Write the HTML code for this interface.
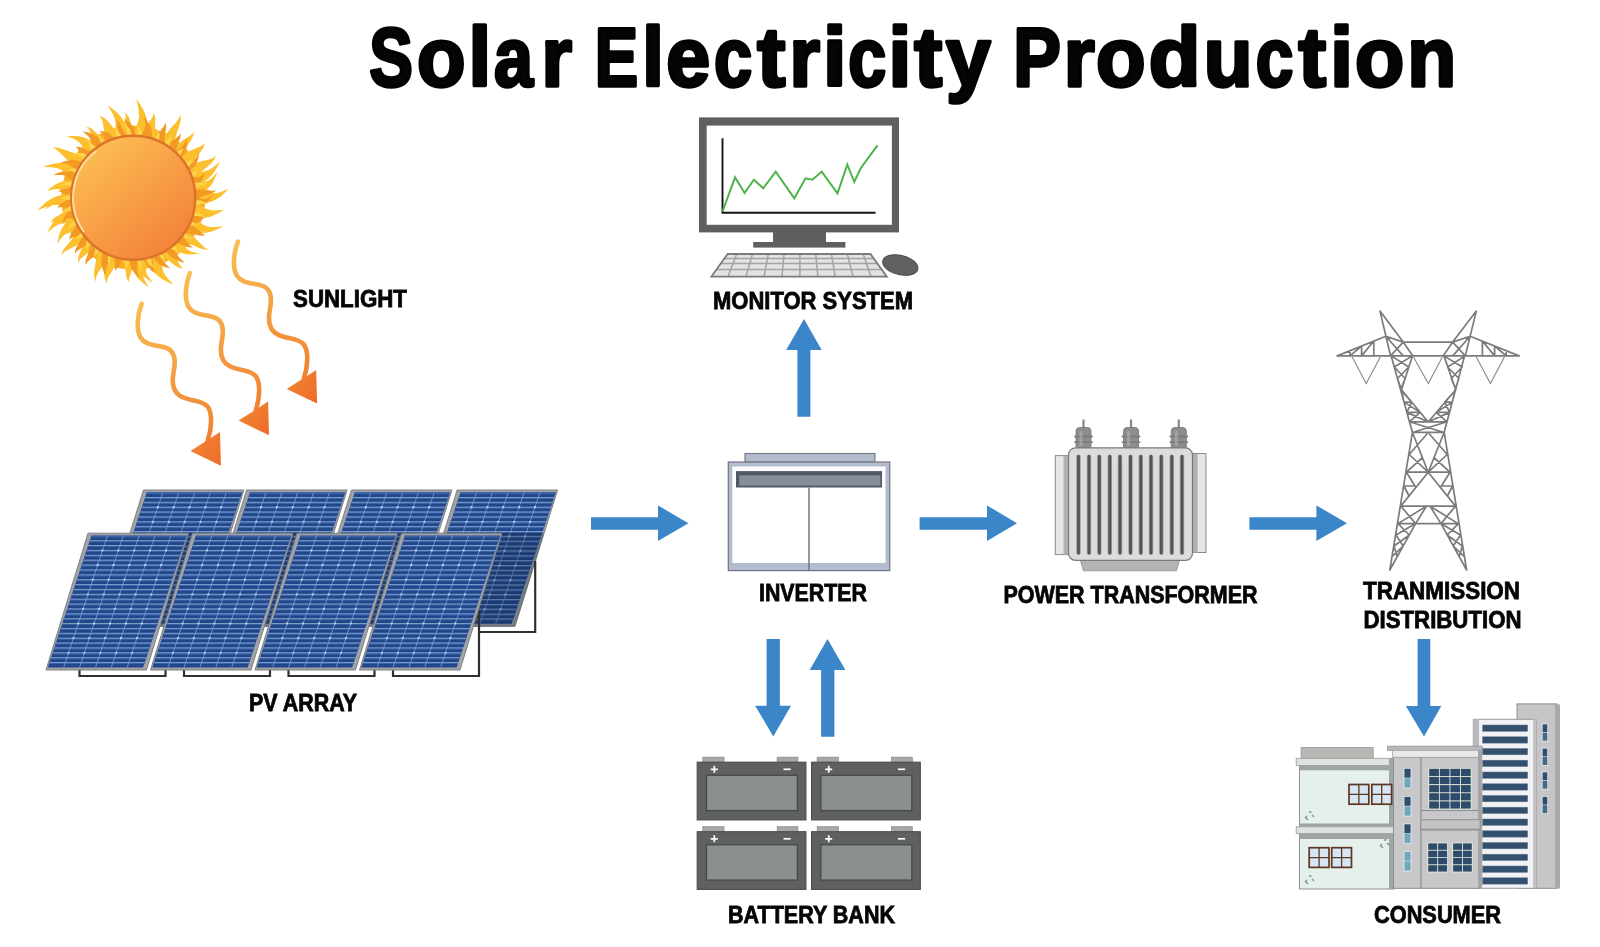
<!DOCTYPE html>
<html><head><meta charset="utf-8">
<style>
html,body{margin:0;padding:0;background:#fff;width:1600px;height:947px;overflow:hidden}
svg{display:block;will-change:transform}
text{font-family:"Liberation Sans",sans-serif;font-weight:bold;fill:#050505}
.lbl text{stroke:#050505;stroke-width:0.8}
</style></head><body>
<svg width="1600" height="947" viewBox="0 0 1600 947">
<rect width="1600" height="947" fill="#fff"/>
<defs>
<linearGradient id="sunG" x1="0.2" y1="0.1" x2="0.85" y2="0.9">
<stop offset="0" stop-color="#fcbb52"/><stop offset="1" stop-color="#f3823a"/></linearGradient>
<linearGradient id="rayG" x1="0" y1="0" x2="0" y2="1">
<stop offset="0" stop-color="#f9bf55"/><stop offset="1" stop-color="#f07f31"/></linearGradient>
<linearGradient id="ahG" x1="0" y1="0" x2="1" y2="1">
<stop offset="0" stop-color="#f28836"/><stop offset="1" stop-color="#ee6a28"/></linearGradient>
</defs>
<g font-size="83.8" stroke="#020202" stroke-width="3.4" stroke-linejoin="round"><text transform="translate(369.24 86.1) scale(0.7798 1)">S</text><text transform="translate(417.01 86.1) scale(0.9471 1)">o</text><text transform="translate(468.46 86.1) scale(0.9733 1)">l</text><text transform="translate(493.97 86.1) scale(0.8361 1)">a</text><text transform="translate(541.43 86.1) scale(0.9343 1)">r</text><text transform="translate(594.87 86.1) scale(0.7756 1)">E</text><text transform="translate(642.15 86.1) scale(0.9263 1)">l</text><text transform="translate(666.32 86.1) scale(0.9415 1)">e</text><text transform="translate(714.01 86.1) scale(0.8198 1)">c</text><text transform="translate(757.18 86.1) scale(1.0082 1)">t</text><text transform="translate(789.43 86.1) scale(0.9343 1)">r</text><text transform="translate(823.02 86.1) scale(1.0068 1)">i</text><text transform="translate(848.22 86.1) scale(0.8153 1)">c</text><text transform="translate(888.43 86.1) scale(0.9800 1)">i</text><text transform="translate(914.18 86.1) scale(1.0014 1)">t</text><text transform="translate(946.00 86.1) scale(0.9591 1)">y</text><text transform="translate(1013.37 86.1) scale(0.8520 1)">P</text><text transform="translate(1063.67 86.1) scale(0.9480 1)">r</text><text transform="translate(1095.98 86.1) scale(0.9679 1)">o</text><text transform="translate(1148.64 86.1) scale(1.0104 1)">d</text><text transform="translate(1203.87 86.1) scale(0.9529 1)">u</text><text transform="translate(1255.63 86.1) scale(0.8085 1)">c</text><text transform="translate(1298.47 86.1) scale(0.9877 1)">t</text><text transform="translate(1330.16 86.1) scale(0.9733 1)">i</text><text transform="translate(1354.99 86.1) scale(0.9617 1)">o</text><text transform="translate(1407.34 86.1) scale(0.9574 1)">n</text></g>
<circle cx="133.3" cy="197.7" r="72" fill="#f9ae2c"/>
<polygon points="195.8,190.1 198.7,190.6 201.5,190.9 204.3,191.1 207.1,191.5 209.9,192 212.8,192.7 215.6,193.4 218.4,194 221.2,194.2 223.9,193.6 223.9,193.6 221.2,196 218.5,197.5 215.7,198.4 212.9,199.1 210.1,199.8 207.3,200.7 204.5,201.8 201.6,202.9 198.8,203.9 195.9,204.7" fill="#fcbf2e"/>
<polygon points="196,203.9 198.7,205.2 201.4,206.5 204.1,207.9 206.9,209 209.6,209.8 212.4,210.3 215.3,210.4 218.2,210.3 221.1,210 224.1,209.8 224.1,209.8 220.9,211.8 217.7,213.6 214.4,215.1 211.2,216.4 208.1,217.3 205,217.8 202,217.9 199,217.9 196,217.7 193,217.7" fill="#fcbf2e"/>
<polygon points="193.2,217.2 195.9,219.2 198.5,221.3 201.2,223.2 203.9,225 206.8,226.2 209.9,227 213.2,227.2 216.7,227 220.1,226.6 223.6,226.1 223.6,226.1 219.6,228.2 215.5,230 211.5,231.4 207.6,232.4 203.9,232.9 200.4,232.7 197.1,232.2 193.9,231.3 190.8,230.4 187.7,229.6" fill="#fcbf2e"/>
<polygon points="187,230.7 189,232.8 191.1,234.7 193.3,236.6 195.4,238.5 197.5,240.5 199.5,242.6 201.5,244.7 203.6,246.7 206,248.3 208.6,249.5 208.6,249.5 205.1,249.5 202.1,248.9 199.2,247.9 196.5,246.7 193.9,245.6 191.1,244.5 188.3,243.4 185.5,242.4 182.7,241.2 180,240" fill="#fcbf2e"/>
<polygon points="180.7,239.2 182,241.3 183.2,243.6 184.4,245.8 185.8,247.8 187.5,249.5 189.6,250.8 191.9,251.7 194.5,252.4 197.2,253 199.9,253.6 199.9,253.6 196.3,254 192.8,254.3 189.3,254.4 186.1,254.2 183.2,253.6 180.7,252.6 178.6,251.3 176.6,249.8 174.7,248.3 172.7,246.9" fill="#fcbf2e"/>
<polygon points="171.5,247.8 172.4,250.1 173.4,252.3 174.5,254.5 175.6,256.6 176.6,258.8 177.6,261.1 178.6,263.3 179.8,265.3 181.3,267.1 183.5,268.5 183.5,268.5 180.1,268 177.4,266.9 175.1,265.5 173.1,264 171.1,262.4 169.1,260.8 167,259.2 165,257.6 163,256 161.1,254.2" fill="#fcbf2e"/>
<polygon points="161,254.3 161.4,257.8 161.6,261.3 161.9,264.8 162.4,268.1 163.3,271.3 164.8,274.3 166.7,277 168.9,279.7 171.2,282.3 173.2,285 173.2,285 169.5,283 165.7,281 162,278.9 158.6,276.5 155.8,273.9 153.5,271.2 151.6,268.3 150.1,265.2 148.5,262.2 146.9,259.2" fill="#fcbf2e"/>
<polygon points="147.1,259.2 146.8,261.7 146.4,264.3 146,266.9 145.9,269.4 146.1,271.8 146.9,274.2 148.2,276.4 149.8,278.6 151.3,280.8 152.6,283 152.6,283 149.9,281.1 147.1,279.1 144.4,277 142,274.9 140.1,272.6 138.8,270.3 137.9,267.9 137.3,265.5 136.7,263.1 136,260.6" fill="#fcbf2e"/>
<polygon points="133.6,260.7 133,262.9 132.7,265.1 132.5,267.2 132.2,269.4 131.6,271.6 130.8,273.7 129.9,275.9 129.2,278 129,280.2 129.6,282.4 129.6,282.4 127.6,280.1 126.6,277.9 126.2,275.6 126,273.4 125.7,271.2 125.2,269 124.5,266.7 123.7,264.4 123,262.1 122.5,259.8" fill="#fcbf2e"/>
<polygon points="118.5,258.9 117.1,261.3 115.8,263.8 114.6,266.2 113.4,268.6 112.1,271 110.6,273.4 109.1,275.7 107.9,278.1 107.1,280.6 107.1,283.4 107.1,283.4 105.3,280.1 104.5,277 104.3,274 104.4,271.2 104.5,268.4 104.5,265.5 104.5,262.6 104.3,259.6 104.4,256.6 104.6,253.8" fill="#fcbf2e"/>
<polygon points="109,255.8 107.3,258.2 105.7,260.7 104.2,263.3 102.7,265.8 101.1,268.3 99.5,270.7 97.9,273.2 96.6,275.8 95.9,278.7 95.9,281.9 95.9,281.9 94.5,278 94,274.5 94.2,271.3 94.7,268.3 95.2,265.3 95.8,262.2 96.3,259.1 96.8,256 97.4,253 98.2,250" fill="#fcbf2e"/>
<polygon points="94.5,247.3 92.6,248.7 90.8,250.2 89.2,251.7 87.5,253.2 85.7,254.6 83.9,256 82.1,257.4 80.5,259 79.2,260.9 78.5,263.2 78.5,263.2 78.1,259.9 78.4,257.1 79.1,254.7 80,252.5 81,250.3 81.9,248.1 82.8,245.8 83.7,243.5 84.7,241.2 85.8,239.1" fill="#fcbf2e"/>
<polygon points="86.1,239.4 83.4,240.8 80.9,242.4 78.5,244.1 76.1,245.7 73.5,247.1 70.8,248.5 68.1,249.7 65.5,251.2 63.3,253.1 61.5,255.6 61.5,255.6 62.4,251.9 63.8,249 65.7,246.6 67.7,244.4 69.7,242.1 71.6,239.7 73.4,237.2 75.2,234.7 77.1,232.2 79.1,229.9" fill="#fcbf2e"/>
<polygon points="79.6,230.6 76.8,231.1 74.1,231.5 71.4,232 68.9,232.7 66.5,233.7 64.3,235.1 62.4,236.8 60.6,239 59,241.4 57.6,243.9 57.6,243.9 58.1,239.8 58.9,235.9 60.1,232.3 61.4,229.2 63.1,226.4 64.9,224.1 66.9,222.1 69,220.4 71.2,218.7 73.3,217" fill="#fcbf2e"/>
<polygon points="74.7,220.9 72.3,220.9 69.9,221.2 67.5,221.6 65.2,221.9 62.7,221.9 60.2,221.7 57.7,221.4 55.2,221.2 52.8,221.5 50.7,222.4 50.7,222.4 52.3,219.7 54.2,217.9 56.3,216.5 58.4,215.4 60.5,214.2 62.6,212.8 64.6,211.1 66.7,209.4 68.8,207.8 70.9,206.4" fill="#fcbf2e"/>
<polygon points="70.8,205.4 68.1,204.9 65.4,204.3 62.7,203.7 60,203.4 57.4,203.5 54.8,204.2 52.2,205.3 49.7,206.7 47.3,208.3 44.8,209.7 44.8,209.7 47.1,206.9 49.5,204.1 52,201.6 54.5,199.3 57.2,197.6 59.8,196.5 62.4,195.7 65.1,195.3 67.7,194.9 70.4,194.4" fill="#fcbf2e"/>
<polygon points="70.4,194 68.1,192.9 65.9,191.8 63.6,190.7 61.3,189.9 59,189.3 56.7,189.1 54.3,189.3 51.9,189.8 49.5,190.5 47,191.2 47,191.2 49.6,188.8 52.2,186.7 54.9,184.8 57.6,183.3 60.2,182.2 62.7,181.4 65.3,181.1 67.7,180.9 70.2,180.8 72.7,180.6" fill="#fcbf2e"/>
<polygon points="73.3,178.4 70.6,176.4 67.8,174.4 65.1,172.3 62.3,170.5 59.4,169.1 56.3,168.1 53,167.6 49.6,167.3 46.3,167.1 43,166.7 43,166.7 46.8,165.6 50.7,164.5 54.6,163.5 58.5,162.9 62.2,162.7 65.6,163.1 68.9,163.8 72.1,164.7 75.3,165.7 78.5,166.6" fill="#fcbf2e"/>
<polygon points="77.4,168.6 75,166.3 72.5,164.2 70,162.2 67.5,160.1 65.1,157.9 62.8,155.6 60.5,153.2 58.1,151 55.5,149.1 52.6,147.8 52.6,147.8 56.5,147.6 59.9,148.2 63.1,149.2 66.2,150.3 69.3,151.5 72.5,152.6 75.7,153.5 79,154.5 82.3,155.6 85.4,156.8" fill="#fcbf2e"/>
<polygon points="86.8,155.1 85.5,152.6 84.2,149.9 82.9,147.3 81.4,144.9 79.6,142.7 77.5,140.9 75.1,139.5 72.4,138.3 69.6,137.2 66.8,136.1 66.8,136.1 70.8,136 74.7,136 78.4,136.3 82,136.9 85.1,137.8 87.9,139.2 90.4,140.8 92.7,142.5 94.9,144.3 97.2,146.1" fill="#fcbf2e"/>
<polygon points="96.7,146.4 95.8,144.3 94.7,142.4 93.6,140.5 92.5,138.5 91.6,136.4 90.9,134.2 90.2,132 89.4,129.9 88,128.1 85.7,127 85.7,127 89.2,127.4 91.6,128.5 93.4,130 95,131.7 96.6,133.3 98.4,134.8 100.5,136.2 102.6,137.7 104.6,139.1 106.3,140.8" fill="#fcbf2e"/>
<polygon points="106.4,140.7 106,138 105.5,135.4 104.8,132.9 104.1,130.3 103.6,127.7 103.2,125 102.8,122.4 102.1,119.9 100.8,117.6 98.7,115.6 98.7,115.6 102.5,116.9 105.3,118.7 107.4,120.7 109.2,122.8 111,125 112.8,127.2 114.8,129.3 116.8,131.5 118.6,133.8 120.2,136.1" fill="#fcbf2e"/>
<polygon points="123.3,135.5 123.6,133.2 123.7,130.9 123.7,128.6 123.8,126.3 124.1,124 124.6,121.7 125.2,119.4 125.6,117.1 125.6,114.8 124.7,112.6 124.7,112.6 127.2,114.7 128.7,116.8 129.6,119 130.2,121.3 131,123.5 131.9,125.7 133,127.9 134.2,130.2 135.3,132.5 136.2,134.8" fill="#fcbf2e"/>
<polygon points="137,134.8 137.9,132.5 138.9,130.2 139.9,128 140.6,125.7 141,123.4 141,121 140.5,118.6 139.8,116.2 138.9,113.8 138.2,111.4 138.2,111.4 140.3,113.9 142.4,116.4 144.2,119 145.8,121.6 146.9,124.2 147.5,126.7 147.8,129.2 147.8,131.6 147.8,134 147.9,136.4" fill="#fcbf2e"/>
<polygon points="143.6,135.6 144.7,133.3 145.5,130.9 146.2,128.6 147,126.3 148.1,124 149.5,121.8 151,119.6 152.4,117.4 153.1,115.1 153,112.6 153,112.6 154.7,115.5 155.3,118.2 155.3,120.7 155.1,123.2 155,125.7 155.1,128.3 155.4,131 155.9,133.7 156.2,136.4 156.3,139" fill="#fcbf2e"/>
<polygon points="161,141.1 163.1,138.5 165.1,135.8 166.9,133.1 168.9,130.4 171,127.8 173.3,125.3 175.6,122.9 177.7,120.3 179.3,117.5 180.1,114.2 180.1,114.2 180.8,118.3 180.4,122 179.5,125.3 178.4,128.4 177.2,131.6 176.2,134.9 175.4,138.3 174.6,141.7 173.6,145.1 172.5,148.4" fill="#fcbf2e"/>
<polygon points="172.8,148.6 175,147 177.1,145.2 179.1,143.4 181.2,141.7 183.4,140.1 185.7,138.5 188.1,137.1 190.3,135.5 192.3,133.7 193.8,131.4 193.8,131.4 193.4,134.8 192.4,137.5 191.1,140 189.6,142.3 188.2,144.6 186.8,147.1 185.6,149.7 184.4,152.3 183.1,154.8 181.6,157.3" fill="#fcbf2e"/>
<polygon points="180.4,155.9 183,154.7 185.4,153.4 187.8,152.1 190.2,150.8 192.7,149.6 195.3,148.6 197.9,147.6 200.5,146.5 202.7,145.1 204.6,143.2 204.6,143.2 203.8,146.5 202.4,149.2 200.7,151.4 198.9,153.5 197.1,155.6 195.3,157.9 193.7,160.3 192,162.7 190.3,165.1 188.5,167.3" fill="#fcbf2e"/>
<polygon points="187.7,165.8 190.7,165.1 193.5,164.1 196.3,163 199.2,162 202.1,161.1 205.1,160.4 208.1,159.8 211,158.9 213.7,157.5 215.8,155.2 215.8,155.2 214.5,159.1 212.5,162 210.2,164.3 207.8,166.2 205.4,168.2 203.1,170.3 200.7,172.6 198.4,175 196,177.2 193.5,179.2" fill="#fcbf2e"/>
<polygon points="193.9,180.5 196.6,180.7 199.3,181.2 202,181.5 204.6,181.6 207.1,181.1 209.4,180 211.6,178.3 213.7,176.2 215.6,173.9 217.6,171.8 217.6,171.8 216.1,175.6 214.4,179.3 212.6,182.8 210.5,185.9 208.3,188.3 206,190.1 203.6,191.3 201.1,192.2 198.7,193.1 196.2,194" fill="#fcbf2e"/>
<polygon points="133.9,134.7 135,131.1 136.3,127.6 137.4,124 138.4,120.5 139,116.9 139,113.3 138.7,109.7 138,106 137.1,102.4 136.4,98.7 136.4,98.7 138.9,102.5 141.3,106.2 143.4,110.1 145.1,113.9 146.4,117.8 147.2,121.6 147.5,125.3 147.6,129 147.7,132.7 147.8,136.4" fill="#fcbf2e"/>
<polygon points="115.3,137.3 115.3,133.9 115.5,130.4 115.6,127 115.6,123.6 115.1,120.3 114.2,117.1 112.8,114.1 111.1,111.1 109.3,108.2 107.5,105.2 107.5,105.2 111,107.7 114.3,110.3 117.4,113.1 120.2,115.9 122.5,118.9 124.3,122 125.6,125.2 126.8,128.4 127.9,131.6 129,134.8" fill="#fcbf2e"/>
<polygon points="71,207.3 67.5,206.7 64,206.1 60.5,205.5 57.1,205.1 53.6,205.1 50.3,205.6 47,206.6 43.7,207.8 40.4,209.2 37.2,210.6 37.2,210.6 40.2,207.5 43.4,204.5 46.6,201.8 49.9,199.5 53.3,197.7 56.7,196.3 60.1,195.4 63.6,194.7 67,194 70.5,193.3" fill="#fcbf2e"/>
<polygon points="75.3,222.4 72.2,222.6 69,222.7 65.9,222.9 62.8,223.3 59.9,224 57.1,225.2 54.5,226.8 52,228.8 49.6,230.8 47.2,232.8 47.2,232.8 49,229.2 50.9,225.7 53,222.4 55.3,219.4 57.7,216.9 60.3,214.8 63,213.2 65.8,211.8 68.5,210.4 71.3,209" fill="#fcbf2e"/>
<polygon points="195.9,190.7 199.3,191.4 202.7,192.2 206,192.9 209.4,193.5 212.7,193.6 216,193.2 219.2,192.4 222.5,191.3 225.7,190 228.9,188.8 228.9,188.8 225.8,191.8 222.6,194.6 219.4,197.2 216.1,199.4 212.7,201.1 209.4,202.3 206,203.1 202.6,203.6 199.3,204.1 195.9,204.7" fill="#fcbf2e"/>
<polygon points="191.1,172.5 194.3,172.2 197.6,172.1 200.8,171.8 204,171.4 207,170.6 209.8,169.4 212.5,167.7 215.1,165.7 217.6,163.6 220.1,161.6 220.1,161.6 218.2,165.3 216.2,168.8 214.1,172.2 211.7,175.2 209.2,177.7 206.6,179.8 203.8,181.5 200.9,183 198,184.4 195.2,185.9" fill="#fcbf2e"/>
<polygon points="144.7,259.7 144.2,262.6 143.6,265.5 143.1,268.4 142.8,271.3 142.9,274.1 143.4,276.9 144.4,279.6 145.7,282.2 147.2,284.8 148.6,287.4 148.6,287.4 145.4,285.1 142.4,282.6 139.7,280.1 137.3,277.4 135.4,274.7 134,271.9 133,269.1 132.2,266.3 131.5,263.5 130.8,260.6" fill="#fcbf2e"/>
<polygon points="195.3,196.8 197,197.3 198.8,198 200.5,198.6 202.3,199.1 204,199.2 205.8,199 207.5,198.4 209.3,197.6 211,196.7 212.8,196 212.8,196 211,197.9 209.3,199.7 207.5,201.5 205.6,202.9 203.8,204 201.9,204.8 200.1,205.2 198.3,205.4 196.6,205.5 194.8,205.8" fill="#f29a24"/>
<polygon points="193.6,212.3 194.7,213.2 195.9,214.3 197,215.4 198.2,216.3 199.5,216.8 200.9,216.9 202.4,216.6 203.9,216.1 205.5,215.5 207,215.1 207,215.1 205.1,216.9 203.2,218.6 201.3,220.2 199.4,221.4 197.6,222.3 196,222.8 194.4,222.9 193,222.8 191.6,222.6 190.1,222.6" fill="#f29a24"/>
<polygon points="189.8,223.3 191.3,224.6 192.9,225.8 194.5,227 196.2,228.2 197.7,229.4 199.2,230.8 200.7,232.2 202.3,233.5 204,234.4 205.9,234.9 205.9,234.9 203.4,235.6 201.1,235.7 199,235.4 197,234.9 195,234.5 192.9,234.1 190.8,233.8 188.6,233.5 186.5,233.2 184.5,232.7" fill="#f29a24"/>
<polygon points="182.3,235.7 183.2,237 184.3,238.3 185.3,239.5 186.4,240.7 187.4,242 188.4,243.3 189.4,244.5 190.5,245.7 191.8,246.6 193.3,247.2 193.3,247.2 191,247.5 189,247.3 187.3,246.9 185.7,246.3 184.1,245.7 182.5,245.1 180.9,244.5 179.2,243.9 177.6,243.3 176.1,242.6" fill="#f29a24"/>
<polygon points="173,245.3 173.9,247.3 174.7,249.4 175.6,251.5 176.5,253.4 177.6,255.3 178.8,257 180.3,258.6 181.8,260.1 183.4,261.5 185,263 185,263 182.5,262.3 180,261.5 177.6,260.6 175.4,259.5 173.3,258.3 171.5,257 169.8,255.5 168.2,254 166.7,252.5 165.1,250.9" fill="#f29a24"/>
<polygon points="162.9,252.2 163.2,254 163.3,256 163.5,257.8 163.8,259.7 164.3,261.4 165.1,262.9 166.2,264.4 167.5,265.7 168.8,267 170.1,268.4 170.1,268.4 167.6,267.7 165.1,266.9 162.8,266 160.6,265 158.8,263.8 157.3,262.5 156,261.1 154.9,259.6 153.8,258.1 152.6,256.6" fill="#f29a24"/>
<polygon points="152.4,256.7 152.5,258.4 152.7,260.1 153,261.7 153.3,263.4 153.4,265.1 153.5,266.8 153.5,268.5 153.7,270.2 154.4,271.7 155.6,273.1 155.6,273.1 153.2,272.1 151.5,270.8 150.3,269.4 149.3,267.9 148.4,266.4 147.3,264.9 146.2,263.4 145,262 143.9,260.5 143,258.9" fill="#f29a24"/>
<polygon points="139,259.4 138.5,261.3 138,263.2 137.5,265 137.2,266.9 137,268.7 137.1,270.5 137.5,272.4 138.1,274.1 138.7,275.9 139.4,277.7 139.4,277.7 137.5,276 135.7,274.3 134.2,272.5 132.8,270.6 131.7,268.8 130.9,267 130.3,265.1 129.9,263.3 129.5,261.4 129,259.6" fill="#f29a24"/>
<polygon points="122.5,258.8 121.9,260 121.4,261.3 121,262.6 120.5,263.8 119.8,265 118.9,266.2 117.8,267.4 116.9,268.5 116.2,269.7 116.1,271.1 116.1,271.1 115.1,269.5 114.8,268 114.8,266.6 115,265.3 115,263.9 114.8,262.5 114.5,261 114.1,259.5 113.8,258 113.6,256.5" fill="#f29a24"/>
<polygon points="113.6,256.5 112.2,258.3 110.7,260 109.3,261.8 108.1,263.6 107,265.5 106.3,267.5 105.9,269.6 105.7,271.8 105.6,274 105.5,276.3 105.5,276.3 104.3,273.5 103.2,270.8 102.3,268.1 101.7,265.5 101.4,263 101.4,260.6 101.7,258.4 102.2,256.2 102.7,254 103.1,251.8" fill="#f29a24"/>
<polygon points="100.2,250.2 98.7,251.6 97.2,253.1 95.7,254.6 94.2,256.1 92.7,257.5 91,258.8 89.3,260.2 87.7,261.6 86.4,263.2 85.4,265 85.4,265 85.3,262.3 85.7,260.1 86.4,258 87.2,256 88,254 88.7,252 89.4,249.9 90.1,247.7 90.8,245.6 91.6,243.6" fill="#f29a24"/>
<polygon points="90.2,242.2 88.5,243.3 86.9,244.4 85.3,245.5 83.8,246.7 82.1,247.7 80.5,248.7 78.8,249.7 77.2,250.9 75.9,252.2 74.9,254 74.9,254 75,251.3 75.6,249.2 76.5,247.3 77.5,245.5 78.6,243.8 79.6,242 80.6,240.2 81.5,238.4 82.6,236.6 83.7,234.9" fill="#f29a24"/>
<polygon points="83,233.9 81.5,234.3 80,234.8 78.6,235.4 77.2,236 75.8,236.4 74.3,236.9 72.8,237.3 71.5,238 70.3,238.9 69.5,240.2 69.5,240.2 69.6,237.7 70.1,235.7 70.8,234.1 71.7,232.7 72.6,231.3 73.5,229.9 74.4,228.4 75.3,226.9 76.2,225.5 77.3,224.2" fill="#f29a24"/>
<polygon points="74.9,218.4 73.4,218.4 71.8,218.2 70.3,218.1 68.9,218.2 67.5,218.6 66.3,219.3 65.1,220.4 64.1,221.7 63.1,223.2 62.2,224.6 62.2,224.6 62.8,222.1 63.4,219.6 64.2,217.4 65.1,215.4 66.2,213.8 67.3,212.5 68.6,211.6 69.8,210.9 71.1,210.2 72.4,209.4" fill="#f29a24"/>
<polygon points="72.2,208.2 70.7,208 69.1,207.8 67.6,207.7 66.1,207.7 64.6,207.5 63.1,207.3 61.6,207.2 60.1,207.2 58.6,207.6 57.3,208.4 57.3,208.4 58.5,206.3 59.8,204.7 61.2,203.7 62.6,202.8 64,202 65.5,201.1 66.9,200.2 68.4,199.3 69.8,198.5 71.3,197.8" fill="#f29a24"/>
<polygon points="71.3,195.8 70,195.4 68.7,195 67.4,194.8 66,194.4 64.7,194 63.4,193.3 62.2,192.6 60.9,192 59.5,191.7 58.2,192 58.2,192 59.7,190.5 61.1,189.7 62.5,189.3 63.8,189.1 65.2,188.8 66.6,188.4 68.1,187.8 69.5,187.2 70.9,186.6 72.4,186.2" fill="#f29a24"/>
<polygon points="73.5,181.2 71.7,180 69.8,178.7 68,177.5 66.2,176.3 64.2,175.5 62.1,175.1 60,174.9 57.7,174.9 55.5,174.9 53.4,174.7 53.4,174.7 55.9,173.8 58.4,172.8 60.9,171.9 63.5,171.2 65.9,170.9 68.2,170.8 70.3,171.2 72.4,171.6 74.5,172.1 76.6,172.5" fill="#f29a24"/>
<polygon points="76.8,172.2 75.4,170.7 74.1,169.2 72.7,167.7 71.3,166.4 69.8,165.3 68.1,164.4 66.3,163.9 64.4,163.5 62.5,163.1 60.6,162.8 60.6,162.8 63.2,161.8 65.7,161 68.2,160.4 70.6,159.9 72.9,159.8 75,160 77,160.4 78.8,160.9 80.7,161.5 82.6,162" fill="#f29a24"/>
<polygon points="84.2,159.8 83.4,158.4 82.5,157.2 81.5,156.1 80.6,154.9 79.8,153.5 79.1,152 78.5,150.4 77.8,148.9 76.9,147.7 75.7,146.8 75.7,146.8 77.9,146.7 79.6,147 81,147.6 82.4,148.4 83.8,149.1 85.3,149.6 86.9,150.1 88.6,150.5 90.3,151 91.8,151.6" fill="#f29a24"/>
<polygon points="94.1,149.7 93.3,147.5 92.7,145.2 92,143 91.2,140.9 90.2,138.9 88.9,137.1 87.4,135.5 85.7,134.1 84.1,132.6 82.5,131 82.5,131 85.3,131.7 88,132.4 90.7,133.2 93.2,134.2 95.5,135.4 97.5,136.7 99.2,138.2 100.8,139.8 102.4,141.5 104,143.1" fill="#f29a24"/>
<polygon points="104.6,142.8 104.5,141.3 104.5,139.9 104.4,138.4 104.3,137 103.9,135.7 103.3,134.6 102.5,133.5 101.4,132.6 100.3,131.7 99.1,130.8 99.1,130.8 101.5,131.1 103.7,131.5 105.7,132.1 107.5,132.7 109.1,133.5 110.4,134.5 111.5,135.5 112.4,136.5 113.3,137.6 114.3,138.7" fill="#f29a24"/>
<polygon points="117.6,137.7 117.6,135.9 117.4,134.2 117.2,132.4 117,130.7 117,128.9 117.1,127.1 117.4,125.3 117.5,123.5 117.2,121.7 116.4,120.1 116.4,120.1 118.3,121.5 119.5,123 120.4,124.7 121,126.3 121.8,128 122.6,129.6 123.6,131.2 124.7,132.8 125.7,134.4 126.5,136.1" fill="#f29a24"/>
<polygon points="124.9,136.3 125.4,134.4 126,132.5 126.6,130.7 127,128.9 127.1,127.1 126.9,125.3 126.3,123.6 125.6,121.9 124.8,120.1 124.3,118.4 124.3,118.4 126.2,120 128.1,121.6 130,123.3 131.7,125 133.1,126.8 134,128.6 134.6,130.4 135,132.2 135.4,134 135.9,135.8" fill="#f29a24"/>
<polygon points="140.6,136.1 141.6,134.3 142.7,132.5 143.7,130.7 144.6,128.8 145.2,126.9 145.4,125 145.2,123 144.9,121 144.4,118.9 144.1,116.9 144.1,116.9 145.9,119.1 147.5,121.4 149.1,123.7 150.3,126 151.2,128.2 151.7,130.4 151.9,132.4 151.9,134.5 151.8,136.5 151.9,138.5" fill="#f29a24"/>
<polygon points="154.8,139.6 156,137.9 157.1,136.2 158.1,134.4 159.1,132.7 160.3,131 161.5,129.4 162.8,127.8 164,126.1 164.8,124.3 165.2,122.3 165.2,122.3 166,124.9 166.2,127.1 166,129.2 165.6,131.3 165.3,133.3 165,135.4 164.9,137.5 164.7,139.7 164.5,141.8 164.2,143.9" fill="#f29a24"/>
<polygon points="167.4,145.9 168.8,144.7 170.1,143.4 171.4,142.1 172.7,140.8 174.1,139.6 175.6,138.4 177.1,137.3 178.5,136.1 179.7,134.7 180.5,133 180.5,133 180.7,135.4 180.4,137.5 179.8,139.3 179,141 178.3,142.8 177.7,144.6 177.1,146.5 176.6,148.4 176,150.2 175.2,152" fill="#f29a24"/>
<polygon points="174.3,151.2 176,150.3 177.7,149.4 179.4,148.5 180.9,147.6 182.3,146.4 183.4,145 184.3,143.3 185,141.6 185.7,139.7 186.4,138 186.4,138 186.6,140.6 186.7,143.2 186.7,145.7 186.4,148 186,150.1 185.2,152 184.3,153.7 183.2,155.2 182.2,156.7 181.1,158.2" fill="#f29a24"/>
<polygon points="184.6,162.9 186.5,162.3 188.4,161.9 190.3,161.5 192.1,160.9 193.7,160 195.1,158.7 196.3,157.2 197.4,155.4 198.4,153.6 199.5,152 199.5,152 199,154.6 198.5,157.2 197.9,159.8 197.1,162.2 196.1,164.2 194.9,165.8 193.6,167.2 192.1,168.4 190.6,169.5 189.1,170.7" fill="#f29a24"/>
<polygon points="191.7,177 193.3,177.1 194.8,177.2 196.3,177.3 197.8,177.2 199.2,177 200.5,176.5 201.7,175.7 202.9,174.7 204,173.7 205.2,172.6 205.2,172.6 204.4,174.8 203.5,176.8 202.6,178.7 201.6,180.4 200.5,181.8 199.3,182.9 198.1,183.8 196.8,184.5 195.5,185.2 194.2,186" fill="#f29a24"/>
<polygon points="194.7,189.2 196.9,189.4 199.1,189.5 201.2,189.5 203.4,189.6 205.5,189.8 207.7,190.1 209.9,190.5 212,190.8 214.2,190.7 216.3,190.2 216.3,190.2 214.3,191.9 212.2,193.1 210.1,193.8 208,194.4 205.9,195.1 203.8,195.8 201.7,196.6 199.6,197.5 197.4,198.3 195.3,198.9" fill="#f29a24"/>
<polygon points="195.3,199.7 196.6,200 198,200.2 199.3,200.3 200.7,200.5 202,200.9 203.4,201.4 204.7,202 206,202.6 207.4,202.9 208.7,202.8 208.7,202.8 207.3,203.7 205.9,204 204.5,204.1 203.2,204.1 201.8,204.2 200.4,204.4 199,204.8 197.6,205.2 196.2,205.6 194.8,205.9" fill="#fdd44a"/>
<polygon points="193.7,211.6 195,212 196.3,212.4 197.7,212.6 199,213 200.2,213.6 201.4,214.4 202.6,215.3 203.8,216.2 205,216.8 206.4,216.9 206.4,216.9 204.8,217.3 203.5,217.2 202.2,216.8 200.9,216.3 199.6,216 198.2,215.9 196.8,215.9 195.4,216 193.9,216.1 192.5,216.1" fill="#fdd44a"/>
<polygon points="190.7,221.1 191.4,221.5 192.2,221.8 192.9,222.1 193.7,222.4 194.4,222.8 195,223.4 195.6,224.1 196.2,224.7 197,224.9 198,224.6 198,224.6 196.7,225.5 195.7,225.7 194.9,225.6 194.1,225.4 193.3,225.3 192.4,225.3 191.5,225.4 190.5,225.5 189.6,225.6 188.7,225.6" fill="#fdd44a"/>
<polygon points="184.7,232.4 185.6,233.3 186.4,234.3 187.2,235.3 188.1,236.2 189.2,236.8 190.4,237.2 191.9,237.3 193.4,237.2 195,237 196.5,236.9 196.5,236.9 194.7,237.5 192.8,238.1 191,238.5 189.2,238.8 187.7,238.8 186.4,238.5 185.2,238 184.1,237.4 183.1,236.7 182,236.1" fill="#fdd44a"/>
<polygon points="173.6,244.8 174.3,246 175.2,247 176.1,247.9 176.9,249 177.7,250.1 178.3,251.3 178.8,252.6 179.5,253.7 180.4,254.7 181.7,255.3 181.7,255.3 180,255.1 178.7,254.4 177.7,253.5 176.8,252.5 175.8,251.6 174.7,250.7 173.6,250 172.3,249.2 171.1,248.5 170.1,247.6" fill="#fdd44a"/>
<polygon points="162.2,252.6 162.5,253.7 163,254.7 163.4,255.7 163.9,256.7 164.2,257.8 164.5,258.9 164.7,260.1 164.9,261.2 165.4,262.2 166.2,263.1 166.2,263.1 164.9,262.5 163.9,261.7 163.2,260.8 162.6,259.9 161.9,259 161.1,258.1 160.3,257.2 159.4,256.4 158.6,255.5 157.8,254.7" fill="#fdd44a"/>
<polygon points="151.5,257 151.5,258.3 151.5,259.7 151.5,261 151.6,262.3 152,263.5 152.6,264.7 153.6,265.7 154.8,266.7 156.1,267.7 157.4,268.6 157.4,268.6 155.3,267.9 153.4,267.1 151.6,266.3 150,265.4 148.7,264.4 147.8,263.3 147.1,262.1 146.6,260.9 146.1,259.7 145.5,258.5" fill="#fdd44a"/>
<polygon points="141.5,259.2 141.4,260.4 141.5,261.7 141.6,263 141.6,264.2 141.6,265.5 141.4,266.8 141.2,268.1 141.1,269.4 141.2,270.7 141.6,271.9 141.6,271.9 140.6,270.7 140,269.5 139.6,268.3 139.4,267 139,265.8 138.6,264.6 138.1,263.3 137.6,262.1 137.1,260.9 136.7,259.6" fill="#fdd44a"/>
<polygon points="129.4,259.6 129.2,260.6 129.1,261.6 129,262.7 128.9,263.7 128.6,264.7 128,265.7 127.3,266.7 126.6,267.6 126.3,268.6 126.4,269.7 126.4,269.7 125.6,268.6 125.4,267.5 125.5,266.5 125.7,265.5 125.8,264.4 125.6,263.4 125.2,262.3 124.8,261.2 124.4,260.1 124.2,259" fill="#fdd44a"/>
<polygon points="113.1,256.3 112.4,257.4 111.6,258.5 110.9,259.6 110.3,260.7 110,262 110,263.4 110.3,264.8 110.9,266.4 111.6,267.9 112.2,269.5 112.2,269.5 111,267.8 109.9,266 108.9,264.3 108.1,262.7 107.7,261.1 107.6,259.7 107.8,258.4 108.1,257.1 108.5,255.9 108.8,254.7" fill="#fdd44a"/>
<polygon points="99.9,249.9 99.3,250.6 98.8,251.3 98.4,252.1 97.9,252.8 97.3,253.4 96.6,254 95.8,254.5 95.1,255.1 94.8,255.9 94.9,257.1 94.9,257.1 94.2,255.6 94.1,254.4 94.3,253.5 94.6,252.7 94.9,251.8 95.1,250.9 95.1,249.8 95.2,248.8 95.3,247.8 95.5,246.8" fill="#fdd44a"/>
<polygon points="92.2,244.1 91.3,244.5 90.5,244.7 89.6,245 88.8,245.4 88.2,246 87.8,246.8 87.7,247.7 87.6,248.7 87.5,249.7 87.2,250.6 87.2,250.6 86.9,249.2 86.6,247.8 86.2,246.3 86,245 85.9,243.8 86.1,242.8 86.5,242 87,241.3 87.5,240.7 87.9,240" fill="#fdd44a"/>
<polygon points="84.6,236.1 83.7,236.5 83,237 82.3,237.6 81.5,238.1 80.6,238.5 79.6,238.7 78.6,238.8 77.6,239 76.8,239.5 76.3,240.5 76.3,240.5 76.3,238.9 76.7,237.8 77.3,237.1 78.1,236.5 78.7,235.9 79.2,235 79.7,234 80.1,233 80.5,232 81.1,231.1" fill="#fdd44a"/>
<polygon points="77.5,224.7 76.3,224.9 75,225.2 73.8,225.4 72.6,225.8 71.6,226.3 70.6,227.1 69.7,228 68.9,229.1 68.1,230.3 67.4,231.5 67.4,231.5 67.9,229.8 68.4,228.2 69.1,226.6 69.8,225.2 70.6,224.1 71.5,223.1 72.5,222.4 73.5,221.8 74.6,221.2 75.6,220.5" fill="#fdd44a"/>
<polygon points="72.7,210.7 71.6,210.7 70.5,210.8 69.5,210.9 68.4,211.1 67.4,211.2 66.3,211.3 65.3,211.4 64.2,211.6 63.3,212.2 62.4,213.2 62.4,213.2 63.1,211.5 64,210.3 64.9,209.5 65.9,208.9 66.8,208.2 67.8,207.6 68.8,206.9 69.8,206.3 70.7,205.7 71.8,205.2" fill="#fdd44a"/>
<polygon points="71.3,200 70.3,199.8 69.2,199.8 68.1,199.8 67,199.7 66,199.5 64.9,199.3 63.8,198.9 62.7,198.7 61.7,198.8 60.6,199.4 60.6,199.4 61.6,198.1 62.7,197.4 63.8,196.9 64.9,196.7 66,196.4 67,196 68.1,195.5 69.2,195 70.3,194.5 71.4,194.1" fill="#fdd44a"/>
<polygon points="72.2,187.2 71,186.7 69.8,186.1 68.6,185.6 67.4,185.1 66.1,184.9 64.8,184.9 63.5,185.2 62.1,185.7 60.7,186.2 59.4,186.7 59.4,186.7 60.8,185.6 62.3,184.5 63.8,183.5 65.3,182.8 66.7,182.3 68.1,182 69.4,182 70.7,182.1 72,182.2 73.3,182.3" fill="#fdd44a"/>
<polygon points="75.9,174.2 75,173.4 74.1,172.6 73.2,171.8 72.2,171.2 71.1,170.8 69.8,170.8 68.5,171.2 67,171.8 65.5,172.4 64.1,173 64.1,173 65.7,171.8 67.4,170.7 69.1,169.6 70.7,168.8 72.2,168.4 73.6,168.3 74.7,168.5 75.8,168.8 76.9,169.2 78,169.6" fill="#fdd44a"/>
<polygon points="83.8,160.4 83,159.3 82.3,158.2 81.5,157.1 80.7,156.1 79.6,155.4 78.4,154.9 77,154.6 75.5,154.6 73.9,154.6 72.3,154.6 72.3,154.6 74.3,154 76.3,153.5 78.3,153 80.1,152.8 81.7,152.9 83.1,153.2 84.3,153.8 85.4,154.4 86.5,155.1 87.7,155.7" fill="#fdd44a"/>
<polygon points="92.4,151.1 91.8,150 91.1,148.9 90.3,147.9 89.6,146.8 89,145.7 88.5,144.4 88.1,143.1 87.7,141.9 87.1,140.7 86.2,139.8 86.2,139.8 87.7,140.3 88.8,141 89.7,141.9 90.6,142.8 91.5,143.7 92.5,144.5 93.7,145.2 94.9,145.9 96,146.6 97.1,147.4" fill="#fdd44a"/>
<polygon points="101.8,144.3 101.4,143.3 100.9,142.3 100.3,141.4 99.8,140.4 99.4,139.4 99.2,138.3 98.9,137.2 98.7,136.1 98.2,135.2 97.3,134.4 97.3,134.4 98.7,134.9 99.6,135.6 100.3,136.5 100.9,137.4 101.5,138.3 102.3,139.1 103.1,139.9 104,140.6 104.9,141.4 105.7,142.2" fill="#fdd44a"/>
<polygon points="116.8,137.9 116.7,136.7 116.4,135.6 116.1,134.4 115.8,133.2 115.7,132 115.7,130.8 115.8,129.5 115.8,128.3 115.5,127.1 114.6,126.1 114.6,126.1 116.1,127 116.9,128 117.5,129.1 117.9,130.2 118.3,131.4 118.9,132.5 119.7,133.5 120.5,134.6 121.2,135.7 121.8,136.8" fill="#fdd44a"/>
<polygon points="125.9,136.1 126.1,134.7 126.4,133.3 126.7,131.8 126.7,130.4 126.5,129 125.9,127.7 124.9,126.4 123.7,125.1 122.4,123.9 121.2,122.7 121.2,122.7 123.1,123.8 125.1,125 126.8,126.2 128.4,127.5 129.5,128.8 130.3,130.2 130.8,131.5 131,132.9 131.3,134.3 131.6,135.7" fill="#fdd44a"/>
<polygon points="136.5,135.8 136.9,134.6 137.4,133.5 137.9,132.4 138.2,131.2 138.3,130 138.1,128.9 137.7,127.7 137.1,126.4 136.5,125.2 135.9,124.1 135.9,124.1 137.2,125.3 138.5,126.5 139.7,127.8 140.7,129.1 141.5,130.3 141.9,131.6 142.1,132.8 142.2,134 142.2,135.2 142.3,136.4" fill="#fdd44a"/>
<polygon points="154.4,139.4 155,138.4 155.7,137.4 156.4,136.3 157,135.3 157.3,134.1 157.3,132.9 157,131.5 156.5,130.1 155.9,128.6 155.3,127.2 155.3,127.2 156.5,128.8 157.5,130.4 158.4,132 159.1,133.6 159.5,135 159.6,136.3 159.4,137.6 159.1,138.7 158.8,139.9 158.5,141" fill="#fdd44a"/>
<polygon points="164.1,143.9 164.8,143 165.5,142.1 166.1,141.2 166.7,140.3 167.5,139.5 168.3,138.7 169.3,138 170.1,137.2 170.6,136.2 170.7,134.9 170.7,134.9 171.3,136.6 171.3,137.9 171.1,139.1 170.7,140.2 170.4,141.2 170.1,142.4 170,143.6 169.9,144.9 169.7,146.1 169.4,147.3" fill="#fdd44a"/>
<polygon points="176,152.8 176.8,152.3 177.4,151.7 178,151.1 178.6,150.5 179.4,150.1 180.2,149.8 181.2,149.5 182.1,149.3 182.8,148.7 183.1,147.8 183.1,147.8 183.3,149.2 183,150.2 182.5,150.9 182,151.5 181.5,152.2 181.1,153.1 180.8,154 180.6,155 180.3,156 179.9,156.8" fill="#fdd44a"/>
<polygon points="184.7,163 185.7,162.6 186.6,162.1 187.4,161.6 188.4,161.1 189.4,160.7 190.5,160.6 191.7,160.5 192.8,160.4 193.8,159.9 194.4,159.1 194.4,159.1 194.2,160.6 193.6,161.6 192.8,162.3 192,162.9 191.2,163.6 190.5,164.5 189.9,165.5 189.3,166.5 188.7,167.6 188,168.4" fill="#fdd44a"/>
<polygon points="189.9,172.4 190.9,172.4 192,172.3 193,172.3 194,172.1 194.9,171.7 195.7,171 196.3,170.1 196.9,169.1 197.5,168 198.1,167 198.1,167 197.8,168.6 197.4,170.2 197,171.8 196.5,173.1 195.9,174.3 195.2,175.1 194.4,175.8 193.5,176.3 192.7,176.7 191.8,177.3" fill="#fdd44a"/>
<polygon points="193.6,183.2 194.9,183.1 196.3,182.8 197.6,182.6 199,182.4 200.4,182.4 201.8,182.6 203.3,183 204.7,183.3 206.1,183.4 207.4,183 207.4,183 206.3,184.1 205,184.6 203.6,184.9 202.3,185.1 201,185.4 199.7,185.9 198.4,186.6 197.2,187.4 195.9,188.2 194.7,188.8" fill="#fdd44a"/>
<circle cx="133.3" cy="197.7" r="62" fill="url(#sunG)" stroke="#dc732b" stroke-width="2.4"/>
<path d="M84 232 A59 59 0 0 1 96 151" fill="none" stroke="#fde3a0" stroke-width="2" opacity="0.9"/>
<polygon points="143.4,490 243.9,490 201.3,626.4 100.8,626.4" fill="#a2a3a6" stroke="#77797d" stroke-width="0.9"/>
<polygon points="146.8,492.6 242.1,492.6 197.9,623.8 102.6,623.8" fill="#22468a"/>
<path d="M146.6 493.2L241.9 493.2M145 498.1L240.3 498.1M143.3 502.9L238.6 502.9M141.7 507.8L237 507.8M140.1 512.6L235.4 512.6M138.4 517.5L233.7 517.5M136.8 522.4L232.1 522.4M135.1 527.2L230.4 527.2M133.5 532.1L228.8 532.1M131.9 536.9L227.2 536.9M130.2 541.8L225.5 541.8M128.6 546.7L223.9 546.7M127 551.5L222.3 551.5M125.3 556.4L220.6 556.4M123.7 561.2L219 561.2M122 566.1L217.3 566.1M120.4 570.9L215.7 570.9M118.8 575.8L214.1 575.8M117.1 580.7L212.4 580.7M115.5 585.5L210.8 585.5M113.9 590.4L209.2 590.4M112.2 595.2L207.5 595.2M110.6 600.1L205.9 600.1M108.9 605L204.2 605M107.3 609.8L202.6 609.8M105.7 614.7L201 614.7M104 619.5L199.3 619.5" stroke="#3762a6" stroke-width="2.0" fill="none"/>
<path d="M145.2 497.5L240.5 497.5M143.5 502.3L238.8 502.3M141.9 507.2L237.2 507.2M140.3 512L235.6 512M138.6 516.9L233.9 516.9M137 521.8L232.3 521.8M135.3 526.6L230.6 526.6M133.7 531.5L229 531.5M132.1 536.3L227.4 536.3M130.4 541.2L225.7 541.2M128.8 546.1L224.1 546.1M127.2 550.9L222.5 550.9M125.5 555.8L220.8 555.8M123.9 560.6L219.2 560.6M122.2 565.5L217.5 565.5M120.6 570.3L215.9 570.3M119 575.2L214.3 575.2M117.3 580.1L212.6 580.1M115.7 584.9L211 584.9M114.1 589.8L209.4 589.8M112.4 594.6L207.7 594.6M110.8 599.5L206.1 599.5M109.1 604.4L204.4 604.4M107.5 609.2L202.8 609.2M105.9 614.1L201.2 614.1M104.2 618.9L199.5 618.9" stroke="#7d9bc9" stroke-width="1.0" fill="none"/>
<path d="M162.7 492.6L118.5 623.8M178.6 492.6L134.4 623.8M194.5 492.6L150.2 623.8M210.3 492.6L166.1 623.8M226.2 492.6L182 623.8" stroke="#86a4d4" stroke-width="0.9" fill="none" opacity="0.85"/>
<path d="M157.8 507.2h0.01M173.7 507.2h0.01M189.5 507.2h0.01M205.4 507.2h0.01M221.3 507.2h0.01M152.9 521.8h0.01M168.8 521.8h0.01M184.6 521.8h0.01M200.5 521.8h0.01M216.4 521.8h0.01M148 536.3h0.01M163.8 536.3h0.01M179.7 536.3h0.01M195.6 536.3h0.01M211.5 536.3h0.01M143 550.9h0.01M158.9 550.9h0.01M174.8 550.9h0.01M190.7 550.9h0.01M206.6 550.9h0.01M138.1 565.5h0.01M154 565.5h0.01M169.9 565.5h0.01M185.8 565.5h0.01M201.7 565.5h0.01M133.2 580.1h0.01M149.1 580.1h0.01M165 580.1h0.01M180.9 580.1h0.01M196.7 580.1h0.01M128.3 594.6h0.01M144.2 594.6h0.01M160.1 594.6h0.01M175.9 594.6h0.01M191.8 594.6h0.01M123.4 609.2h0.01M139.3 609.2h0.01M155.2 609.2h0.01M171 609.2h0.01M186.9 609.2h0.01" stroke="#b9cde9" stroke-width="2.3" stroke-linecap="round" fill="none"/>
<polygon points="246.6,490 347.1,490 304.5,626.4 204,626.4" fill="#a2a3a6" stroke="#77797d" stroke-width="0.9"/>
<polygon points="250,492.6 345.3,492.6 301.1,623.8 205.8,623.8" fill="#22468a"/>
<path d="M249.8 493.2L345.1 493.2M248.2 498.1L343.5 498.1M246.5 502.9L341.8 502.9M244.9 507.8L340.2 507.8M243.3 512.6L338.6 512.6M241.6 517.5L336.9 517.5M240 522.4L335.3 522.4M238.3 527.2L333.6 527.2M236.7 532.1L332 532.1M235.1 536.9L330.4 536.9M233.4 541.8L328.7 541.8M231.8 546.7L327.1 546.7M230.2 551.5L325.5 551.5M228.5 556.4L323.8 556.4M226.9 561.2L322.2 561.2M225.2 566.1L320.5 566.1M223.6 570.9L318.9 570.9M222 575.8L317.3 575.8M220.3 580.7L315.6 580.7M218.7 585.5L314 585.5M217.1 590.4L312.4 590.4M215.4 595.2L310.7 595.2M213.8 600.1L309.1 600.1M212.1 605L307.4 605M210.5 609.8L305.8 609.8M208.9 614.7L304.2 614.7M207.2 619.5L302.5 619.5" stroke="#3762a6" stroke-width="2.0" fill="none"/>
<path d="M248.4 497.5L343.7 497.5M246.7 502.3L342 502.3M245.1 507.2L340.4 507.2M243.5 512L338.8 512M241.8 516.9L337.1 516.9M240.2 521.8L335.5 521.8M238.5 526.6L333.8 526.6M236.9 531.5L332.2 531.5M235.3 536.3L330.6 536.3M233.6 541.2L328.9 541.2M232 546.1L327.3 546.1M230.4 550.9L325.7 550.9M228.7 555.8L324 555.8M227.1 560.6L322.4 560.6M225.4 565.5L320.7 565.5M223.8 570.3L319.1 570.3M222.2 575.2L317.5 575.2M220.5 580.1L315.8 580.1M218.9 584.9L314.2 584.9M217.3 589.8L312.6 589.8M215.6 594.6L310.9 594.6M214 599.5L309.3 599.5M212.3 604.4L307.6 604.4M210.7 609.2L306 609.2M209.1 614.1L304.4 614.1M207.4 618.9L302.7 618.9" stroke="#7d9bc9" stroke-width="1.0" fill="none"/>
<path d="M265.9 492.6L221.7 623.8M281.8 492.6L237.6 623.8M297.7 492.6L253.4 623.8M313.5 492.6L269.3 623.8M329.4 492.6L285.2 623.8" stroke="#86a4d4" stroke-width="0.9" fill="none" opacity="0.85"/>
<path d="M261 507.2h0.01M276.9 507.2h0.01M292.7 507.2h0.01M308.6 507.2h0.01M324.5 507.2h0.01M256.1 521.8h0.01M272 521.8h0.01M287.8 521.8h0.01M303.7 521.8h0.01M319.6 521.8h0.01M251.2 536.3h0.01M267 536.3h0.01M282.9 536.3h0.01M298.8 536.3h0.01M314.7 536.3h0.01M246.2 550.9h0.01M262.1 550.9h0.01M278 550.9h0.01M293.9 550.9h0.01M309.8 550.9h0.01M241.3 565.5h0.01M257.2 565.5h0.01M273.1 565.5h0.01M289 565.5h0.01M304.9 565.5h0.01M236.4 580.1h0.01M252.3 580.1h0.01M268.2 580.1h0.01M284.1 580.1h0.01M299.9 580.1h0.01M231.5 594.6h0.01M247.4 594.6h0.01M263.3 594.6h0.01M279.1 594.6h0.01M295 594.6h0.01M226.6 609.2h0.01M242.5 609.2h0.01M258.4 609.2h0.01M274.2 609.2h0.01M290.1 609.2h0.01" stroke="#b9cde9" stroke-width="2.3" stroke-linecap="round" fill="none"/>
<polygon points="351.4,490 451.9,490 409.3,626.4 308.8,626.4" fill="#a2a3a6" stroke="#77797d" stroke-width="0.9"/>
<polygon points="354.8,492.6 450.1,492.6 405.9,623.8 310.6,623.8" fill="#22468a"/>
<path d="M354.6 493.2L449.9 493.2M353 498.1L448.3 498.1M351.3 502.9L446.6 502.9M349.7 507.8L445 507.8M348.1 512.6L443.4 512.6M346.4 517.5L441.7 517.5M344.8 522.4L440.1 522.4M343.1 527.2L438.4 527.2M341.5 532.1L436.8 532.1M339.9 536.9L435.2 536.9M338.2 541.8L433.5 541.8M336.6 546.7L431.9 546.7M335 551.5L430.3 551.5M333.3 556.4L428.6 556.4M331.7 561.2L427 561.2M330 566.1L425.3 566.1M328.4 570.9L423.7 570.9M326.8 575.8L422.1 575.8M325.1 580.7L420.4 580.7M323.5 585.5L418.8 585.5M321.9 590.4L417.2 590.4M320.2 595.2L415.5 595.2M318.6 600.1L413.9 600.1M316.9 605L412.2 605M315.3 609.8L410.6 609.8M313.7 614.7L409 614.7M312 619.5L407.3 619.5" stroke="#3762a6" stroke-width="2.0" fill="none"/>
<path d="M353.2 497.5L448.5 497.5M351.5 502.3L446.8 502.3M349.9 507.2L445.2 507.2M348.3 512L443.6 512M346.6 516.9L441.9 516.9M345 521.8L440.3 521.8M343.3 526.6L438.6 526.6M341.7 531.5L437 531.5M340.1 536.3L435.4 536.3M338.4 541.2L433.7 541.2M336.8 546.1L432.1 546.1M335.2 550.9L430.5 550.9M333.5 555.8L428.8 555.8M331.9 560.6L427.2 560.6M330.2 565.5L425.5 565.5M328.6 570.3L423.9 570.3M327 575.2L422.3 575.2M325.3 580.1L420.6 580.1M323.7 584.9L419 584.9M322.1 589.8L417.4 589.8M320.4 594.6L415.7 594.6M318.8 599.5L414.1 599.5M317.1 604.4L412.4 604.4M315.5 609.2L410.8 609.2M313.9 614.1L409.2 614.1M312.2 618.9L407.5 618.9" stroke="#7d9bc9" stroke-width="1.0" fill="none"/>
<path d="M370.7 492.6L326.5 623.8M386.6 492.6L342.4 623.8M402.5 492.6L358.2 623.8M418.3 492.6L374.1 623.8M434.2 492.6L390 623.8" stroke="#86a4d4" stroke-width="0.9" fill="none" opacity="0.85"/>
<path d="M365.8 507.2h0.01M381.7 507.2h0.01M397.5 507.2h0.01M413.4 507.2h0.01M429.3 507.2h0.01M360.9 521.8h0.01M376.8 521.8h0.01M392.6 521.8h0.01M408.5 521.8h0.01M424.4 521.8h0.01M356 536.3h0.01M371.8 536.3h0.01M387.7 536.3h0.01M403.6 536.3h0.01M419.5 536.3h0.01M351 550.9h0.01M366.9 550.9h0.01M382.8 550.9h0.01M398.7 550.9h0.01M414.6 550.9h0.01M346.1 565.5h0.01M362 565.5h0.01M377.9 565.5h0.01M393.8 565.5h0.01M409.7 565.5h0.01M341.2 580.1h0.01M357.1 580.1h0.01M373 580.1h0.01M388.9 580.1h0.01M404.7 580.1h0.01M336.3 594.6h0.01M352.2 594.6h0.01M368.1 594.6h0.01M383.9 594.6h0.01M399.8 594.6h0.01M331.4 609.2h0.01M347.3 609.2h0.01M363.2 609.2h0.01M379 609.2h0.01M394.9 609.2h0.01" stroke="#b9cde9" stroke-width="2.3" stroke-linecap="round" fill="none"/>
<polygon points="457.1,490 557.6,490 515,626.4 414.5,626.4" fill="#a2a3a6" stroke="#77797d" stroke-width="0.9"/>
<polygon points="460.5,492.6 555.8,492.6 511.6,623.8 416.3,623.8" fill="#22468a"/>
<path d="M460.3 493.2L555.6 493.2M458.7 498.1L554 498.1M457 502.9L552.3 502.9M455.4 507.8L550.7 507.8M453.8 512.6L549.1 512.6M452.1 517.5L547.4 517.5M450.5 522.4L545.8 522.4M448.8 527.2L544.1 527.2M447.2 532.1L542.5 532.1M445.6 536.9L540.9 536.9M443.9 541.8L539.2 541.8M442.3 546.7L537.6 546.7M440.7 551.5L536 551.5M439 556.4L534.3 556.4M437.4 561.2L532.7 561.2M435.7 566.1L531 566.1M434.1 570.9L529.4 570.9M432.5 575.8L527.8 575.8M430.8 580.7L526.1 580.7M429.2 585.5L524.5 585.5M427.6 590.4L522.9 590.4M425.9 595.2L521.2 595.2M424.3 600.1L519.6 600.1M422.6 605L517.9 605M421 609.8L516.3 609.8M419.4 614.7L514.7 614.7M417.7 619.5L513 619.5" stroke="#3762a6" stroke-width="2.0" fill="none"/>
<path d="M458.9 497.5L554.2 497.5M457.2 502.3L552.5 502.3M455.6 507.2L550.9 507.2M454 512L549.3 512M452.3 516.9L547.6 516.9M450.7 521.8L546 521.8M449 526.6L544.3 526.6M447.4 531.5L542.7 531.5M445.8 536.3L541.1 536.3M444.1 541.2L539.4 541.2M442.5 546.1L537.8 546.1M440.9 550.9L536.2 550.9M439.2 555.8L534.5 555.8M437.6 560.6L532.9 560.6M435.9 565.5L531.2 565.5M434.3 570.3L529.6 570.3M432.7 575.2L528 575.2M431 580.1L526.3 580.1M429.4 584.9L524.7 584.9M427.8 589.8L523.1 589.8M426.1 594.6L521.4 594.6M424.5 599.5L519.8 599.5M422.8 604.4L518.1 604.4M421.2 609.2L516.5 609.2M419.6 614.1L514.9 614.1M417.9 618.9L513.2 618.9" stroke="#7d9bc9" stroke-width="1.0" fill="none"/>
<path d="M476.4 492.6L432.2 623.8M492.3 492.6L448.1 623.8M508.2 492.6L463.9 623.8M524 492.6L479.8 623.8M539.9 492.6L495.7 623.8" stroke="#86a4d4" stroke-width="0.9" fill="none" opacity="0.85"/>
<path d="M471.5 507.2h0.01M487.4 507.2h0.01M503.2 507.2h0.01M519.1 507.2h0.01M535 507.2h0.01M466.6 521.8h0.01M482.5 521.8h0.01M498.3 521.8h0.01M514.2 521.8h0.01M530.1 521.8h0.01M461.7 536.3h0.01M477.5 536.3h0.01M493.4 536.3h0.01M509.3 536.3h0.01M525.2 536.3h0.01M456.7 550.9h0.01M472.6 550.9h0.01M488.5 550.9h0.01M504.4 550.9h0.01M520.3 550.9h0.01M451.8 565.5h0.01M467.7 565.5h0.01M483.6 565.5h0.01M499.5 565.5h0.01M515.4 565.5h0.01M446.9 580.1h0.01M462.8 580.1h0.01M478.7 580.1h0.01M494.6 580.1h0.01M510.4 580.1h0.01M442 594.6h0.01M457.9 594.6h0.01M473.8 594.6h0.01M489.6 594.6h0.01M505.5 594.6h0.01M437.1 609.2h0.01M453 609.2h0.01M468.9 609.2h0.01M484.7 609.2h0.01M500.6 609.2h0.01" stroke="#b9cde9" stroke-width="2.3" stroke-linecap="round" fill="none"/>
<polygon points="130,533 544.2,533 515,626.4 100.8,626.4" fill="#0c1c3a" opacity="0.28"/>
<path d="M535.2 561V632H478.2" fill="none" stroke="#2f3032" stroke-width="2.2"/>
<path d="M79.5 669V676H165.5 V669" fill="none" stroke="#2f3032" stroke-width="2.2"/>
<polygon points="88,533.2 188.5,533.2 146.5,670 46,670" fill="#a2a3a6" stroke="#77797d" stroke-width="0.9"/>
<polygon points="91.4,535.8 186.7,535.8 143.1,667.4 47.8,667.4" fill="#22468a"/>
<path d="M91.2 536.4L186.5 536.4M89.6 541.3L184.9 541.3M88 546.1L183.3 546.1M86.4 551L181.7 551M84.7 555.9L180 555.9M83.1 560.8L178.4 560.8M81.5 565.6L176.8 565.6M79.9 570.5L175.2 570.5M78.3 575.4L173.6 575.4M76.7 580.3L172 580.3M75.1 585.1L170.4 585.1M73.4 590L168.7 590M71.8 594.9L167.1 594.9M70.2 599.8L165.5 599.8M68.6 604.6L163.9 604.6M67 609.5L162.3 609.5M65.4 614.4L160.7 614.4M63.7 619.3L159 619.3M62.1 624.1L157.4 624.1M60.5 629L155.8 629M58.9 633.9L154.2 633.9M57.3 638.8L152.6 638.8M55.7 643.6L151 643.6M54.1 648.5L149.4 648.5M52.4 653.4L147.7 653.4M50.8 658.3L146.1 658.3M49.2 663.1L144.5 663.1" stroke="#3762a6" stroke-width="2.0" fill="none"/>
<path d="M89.8 540.7L185.1 540.7M88.2 545.5L183.5 545.5M86.6 550.4L181.9 550.4M84.9 555.3L180.2 555.3M83.3 560.2L178.6 560.2M81.7 565L177 565M80.1 569.9L175.4 569.9M78.5 574.8L173.8 574.8M76.9 579.7L172.2 579.7M75.3 584.5L170.6 584.5M73.6 589.4L168.9 589.4M72 594.3L167.3 594.3M70.4 599.2L165.7 599.2M68.8 604L164.1 604M67.2 608.9L162.5 608.9M65.6 613.8L160.9 613.8M63.9 618.7L159.2 618.7M62.3 623.5L157.6 623.5M60.7 628.4L156 628.4M59.1 633.3L154.4 633.3M57.5 638.2L152.8 638.2M55.9 643L151.2 643M54.3 647.9L149.6 647.9M52.6 652.8L147.9 652.8M51 657.7L146.3 657.7M49.4 662.5L144.7 662.5" stroke="#7d9bc9" stroke-width="1.0" fill="none"/>
<path d="M107.3 535.8L63.7 667.4M123.2 535.8L79.6 667.4M139 535.8L95.5 667.4M154.9 535.8L111.3 667.4M170.8 535.8L127.2 667.4" stroke="#86a4d4" stroke-width="0.9" fill="none" opacity="0.85"/>
<path d="M102.4 550.4h0.01M118.3 550.4h0.01M134.2 550.4h0.01M150.1 550.4h0.01M166 550.4h0.01M97.6 565h0.01M113.5 565h0.01M129.4 565h0.01M145.2 565h0.01M161.1 565h0.01M92.7 579.7h0.01M108.6 579.7h0.01M124.5 579.7h0.01M140.4 579.7h0.01M156.3 579.7h0.01M87.9 594.3h0.01M103.8 594.3h0.01M119.7 594.3h0.01M135.6 594.3h0.01M151.4 594.3h0.01M83.1 608.9h0.01M98.9 608.9h0.01M114.8 608.9h0.01M130.7 608.9h0.01M146.6 608.9h0.01M78.2 623.5h0.01M94.1 623.5h0.01M110 623.5h0.01M125.9 623.5h0.01M141.8 623.5h0.01M73.4 638.2h0.01M89.3 638.2h0.01M105.1 638.2h0.01M121 638.2h0.01M136.9 638.2h0.01M68.5 652.8h0.01M84.4 652.8h0.01M100.3 652.8h0.01M116.2 652.8h0.01M132.1 652.8h0.01" stroke="#b9cde9" stroke-width="2.3" stroke-linecap="round" fill="none"/>
<path d="M184 669V676H270 V669" fill="none" stroke="#2f3032" stroke-width="2.2"/>
<polygon points="192.5,533.2 293,533.2 251,670 150.5,670" fill="#a2a3a6" stroke="#77797d" stroke-width="0.9"/>
<polygon points="195.9,535.8 291.2,535.8 247.6,667.4 152.3,667.4" fill="#22468a"/>
<path d="M195.7 536.4L291 536.4M194.1 541.3L289.4 541.3M192.5 546.1L287.8 546.1M190.9 551L286.2 551M189.2 555.9L284.5 555.9M187.6 560.8L282.9 560.8M186 565.6L281.3 565.6M184.4 570.5L279.7 570.5M182.8 575.4L278.1 575.4M181.2 580.3L276.5 580.3M179.6 585.1L274.9 585.1M177.9 590L273.2 590M176.3 594.9L271.6 594.9M174.7 599.8L270 599.8M173.1 604.6L268.4 604.6M171.5 609.5L266.8 609.5M169.9 614.4L265.2 614.4M168.2 619.3L263.5 619.3M166.6 624.1L261.9 624.1M165 629L260.3 629M163.4 633.9L258.7 633.9M161.8 638.8L257.1 638.8M160.2 643.6L255.5 643.6M158.6 648.5L253.9 648.5M156.9 653.4L252.2 653.4M155.3 658.3L250.6 658.3M153.7 663.1L249 663.1" stroke="#3762a6" stroke-width="2.0" fill="none"/>
<path d="M194.3 540.7L289.6 540.7M192.7 545.5L288 545.5M191.1 550.4L286.4 550.4M189.4 555.3L284.7 555.3M187.8 560.2L283.1 560.2M186.2 565L281.5 565M184.6 569.9L279.9 569.9M183 574.8L278.3 574.8M181.4 579.7L276.7 579.7M179.8 584.5L275.1 584.5M178.1 589.4L273.4 589.4M176.5 594.3L271.8 594.3M174.9 599.2L270.2 599.2M173.3 604L268.6 604M171.7 608.9L267 608.9M170.1 613.8L265.4 613.8M168.4 618.7L263.7 618.7M166.8 623.5L262.1 623.5M165.2 628.4L260.5 628.4M163.6 633.3L258.9 633.3M162 638.2L257.3 638.2M160.4 643L255.7 643M158.8 647.9L254.1 647.9M157.1 652.8L252.4 652.8M155.5 657.7L250.8 657.7M153.9 662.5L249.2 662.5" stroke="#7d9bc9" stroke-width="1.0" fill="none"/>
<path d="M211.8 535.8L168.2 667.4M227.7 535.8L184.1 667.4M243.5 535.8L200 667.4M259.4 535.8L215.8 667.4M275.3 535.8L231.7 667.4" stroke="#86a4d4" stroke-width="0.9" fill="none" opacity="0.85"/>
<path d="M206.9 550.4h0.01M222.8 550.4h0.01M238.7 550.4h0.01M254.6 550.4h0.01M270.5 550.4h0.01M202.1 565h0.01M218 565h0.01M233.9 565h0.01M249.7 565h0.01M265.6 565h0.01M197.2 579.7h0.01M213.1 579.7h0.01M229 579.7h0.01M244.9 579.7h0.01M260.8 579.7h0.01M192.4 594.3h0.01M208.3 594.3h0.01M224.2 594.3h0.01M240.1 594.3h0.01M255.9 594.3h0.01M187.6 608.9h0.01M203.4 608.9h0.01M219.3 608.9h0.01M235.2 608.9h0.01M251.1 608.9h0.01M182.7 623.5h0.01M198.6 623.5h0.01M214.5 623.5h0.01M230.4 623.5h0.01M246.3 623.5h0.01M177.9 638.2h0.01M193.8 638.2h0.01M209.6 638.2h0.01M225.5 638.2h0.01M241.4 638.2h0.01M173 652.8h0.01M188.9 652.8h0.01M204.8 652.8h0.01M220.7 652.8h0.01M236.6 652.8h0.01" stroke="#b9cde9" stroke-width="2.3" stroke-linecap="round" fill="none"/>
<path d="M288.5 669V676H374.5 V669" fill="none" stroke="#2f3032" stroke-width="2.2"/>
<polygon points="297,533.2 397.5,533.2 355.5,670 255,670" fill="#a2a3a6" stroke="#77797d" stroke-width="0.9"/>
<polygon points="300.4,535.8 395.7,535.8 352.1,667.4 256.8,667.4" fill="#22468a"/>
<path d="M300.2 536.4L395.5 536.4M298.6 541.3L393.9 541.3M297 546.1L392.3 546.1M295.4 551L390.7 551M293.7 555.9L389 555.9M292.1 560.8L387.4 560.8M290.5 565.6L385.8 565.6M288.9 570.5L384.2 570.5M287.3 575.4L382.6 575.4M285.7 580.3L381 580.3M284.1 585.1L379.4 585.1M282.4 590L377.7 590M280.8 594.9L376.1 594.9M279.2 599.8L374.5 599.8M277.6 604.6L372.9 604.6M276 609.5L371.3 609.5M274.4 614.4L369.7 614.4M272.7 619.3L368 619.3M271.1 624.1L366.4 624.1M269.5 629L364.8 629M267.9 633.9L363.2 633.9M266.3 638.8L361.6 638.8M264.7 643.6L360 643.6M263.1 648.5L358.4 648.5M261.4 653.4L356.7 653.4M259.8 658.3L355.1 658.3M258.2 663.1L353.5 663.1" stroke="#3762a6" stroke-width="2.0" fill="none"/>
<path d="M298.8 540.7L394.1 540.7M297.2 545.5L392.5 545.5M295.6 550.4L390.9 550.4M293.9 555.3L389.2 555.3M292.3 560.2L387.6 560.2M290.7 565L386 565M289.1 569.9L384.4 569.9M287.5 574.8L382.8 574.8M285.9 579.7L381.2 579.7M284.3 584.5L379.6 584.5M282.6 589.4L377.9 589.4M281 594.3L376.3 594.3M279.4 599.2L374.7 599.2M277.8 604L373.1 604M276.2 608.9L371.5 608.9M274.6 613.8L369.9 613.8M272.9 618.7L368.2 618.7M271.3 623.5L366.6 623.5M269.7 628.4L365 628.4M268.1 633.3L363.4 633.3M266.5 638.2L361.8 638.2M264.9 643L360.2 643M263.3 647.9L358.6 647.9M261.6 652.8L356.9 652.8M260 657.7L355.3 657.7M258.4 662.5L353.7 662.5" stroke="#7d9bc9" stroke-width="1.0" fill="none"/>
<path d="M316.3 535.8L272.7 667.4M332.2 535.8L288.6 667.4M348 535.8L304.5 667.4M363.9 535.8L320.3 667.4M379.8 535.8L336.2 667.4" stroke="#86a4d4" stroke-width="0.9" fill="none" opacity="0.85"/>
<path d="M311.4 550.4h0.01M327.3 550.4h0.01M343.2 550.4h0.01M359.1 550.4h0.01M375 550.4h0.01M306.6 565h0.01M322.5 565h0.01M338.4 565h0.01M354.2 565h0.01M370.1 565h0.01M301.7 579.7h0.01M317.6 579.7h0.01M333.5 579.7h0.01M349.4 579.7h0.01M365.3 579.7h0.01M296.9 594.3h0.01M312.8 594.3h0.01M328.7 594.3h0.01M344.6 594.3h0.01M360.4 594.3h0.01M292.1 608.9h0.01M307.9 608.9h0.01M323.8 608.9h0.01M339.7 608.9h0.01M355.6 608.9h0.01M287.2 623.5h0.01M303.1 623.5h0.01M319 623.5h0.01M334.9 623.5h0.01M350.8 623.5h0.01M282.4 638.2h0.01M298.3 638.2h0.01M314.1 638.2h0.01M330 638.2h0.01M345.9 638.2h0.01M277.5 652.8h0.01M293.4 652.8h0.01M309.3 652.8h0.01M325.2 652.8h0.01M341.1 652.8h0.01" stroke="#b9cde9" stroke-width="2.3" stroke-linecap="round" fill="none"/>
<path d="M393 669V676H479 V610" fill="none" stroke="#2f3032" stroke-width="2.2"/>
<polygon points="401.5,533.2 502,533.2 460,670 359.5,670" fill="#a2a3a6" stroke="#77797d" stroke-width="0.9"/>
<polygon points="404.9,535.8 500.2,535.8 456.6,667.4 361.3,667.4" fill="#22468a"/>
<path d="M404.7 536.4L500 536.4M403.1 541.3L498.4 541.3M401.5 546.1L496.8 546.1M399.9 551L495.2 551M398.2 555.9L493.5 555.9M396.6 560.8L491.9 560.8M395 565.6L490.3 565.6M393.4 570.5L488.7 570.5M391.8 575.4L487.1 575.4M390.2 580.3L485.5 580.3M388.6 585.1L483.9 585.1M386.9 590L482.2 590M385.3 594.9L480.6 594.9M383.7 599.8L479 599.8M382.1 604.6L477.4 604.6M380.5 609.5L475.8 609.5M378.9 614.4L474.2 614.4M377.2 619.3L472.5 619.3M375.6 624.1L470.9 624.1M374 629L469.3 629M372.4 633.9L467.7 633.9M370.8 638.8L466.1 638.8M369.2 643.6L464.5 643.6M367.6 648.5L462.9 648.5M365.9 653.4L461.2 653.4M364.3 658.3L459.6 658.3M362.7 663.1L458 663.1" stroke="#3762a6" stroke-width="2.0" fill="none"/>
<path d="M403.3 540.7L498.6 540.7M401.7 545.5L497 545.5M400.1 550.4L495.4 550.4M398.4 555.3L493.7 555.3M396.8 560.2L492.1 560.2M395.2 565L490.5 565M393.6 569.9L488.9 569.9M392 574.8L487.3 574.8M390.4 579.7L485.7 579.7M388.8 584.5L484.1 584.5M387.1 589.4L482.4 589.4M385.5 594.3L480.8 594.3M383.9 599.2L479.2 599.2M382.3 604L477.6 604M380.7 608.9L476 608.9M379.1 613.8L474.4 613.8M377.4 618.7L472.7 618.7M375.8 623.5L471.1 623.5M374.2 628.4L469.5 628.4M372.6 633.3L467.9 633.3M371 638.2L466.3 638.2M369.4 643L464.7 643M367.8 647.9L463.1 647.9M366.1 652.8L461.4 652.8M364.5 657.7L459.8 657.7M362.9 662.5L458.2 662.5" stroke="#7d9bc9" stroke-width="1.0" fill="none"/>
<path d="M420.8 535.8L377.2 667.4M436.7 535.8L393.1 667.4M452.5 535.8L409 667.4M468.4 535.8L424.8 667.4M484.3 535.8L440.7 667.4" stroke="#86a4d4" stroke-width="0.9" fill="none" opacity="0.85"/>
<path d="M415.9 550.4h0.01M431.8 550.4h0.01M447.7 550.4h0.01M463.6 550.4h0.01M479.5 550.4h0.01M411.1 565h0.01M427 565h0.01M442.9 565h0.01M458.7 565h0.01M474.6 565h0.01M406.2 579.7h0.01M422.1 579.7h0.01M438 579.7h0.01M453.9 579.7h0.01M469.8 579.7h0.01M401.4 594.3h0.01M417.3 594.3h0.01M433.2 594.3h0.01M449.1 594.3h0.01M464.9 594.3h0.01M396.6 608.9h0.01M412.4 608.9h0.01M428.3 608.9h0.01M444.2 608.9h0.01M460.1 608.9h0.01M391.7 623.5h0.01M407.6 623.5h0.01M423.5 623.5h0.01M439.4 623.5h0.01M455.3 623.5h0.01M386.9 638.2h0.01M402.8 638.2h0.01M418.6 638.2h0.01M434.5 638.2h0.01M450.4 638.2h0.01M382 652.8h0.01M397.9 652.8h0.01M413.8 652.8h0.01M429.7 652.8h0.01M445.6 652.8h0.01" stroke="#b9cde9" stroke-width="2.3" stroke-linecap="round" fill="none"/>
<rect x="699" y="117.4" width="200" height="115" fill="#5e5f61"/>
<rect x="706.7" y="125.6" width="185.2" height="99.2" fill="#fff"/>
<rect x="773" y="232" width="53" height="10.5" fill="#5e5f61"/>
<rect x="753.2" y="242" width="92.2" height="5.6" fill="#5e5f61"/>
<path d="M722.5 138.3V212.7H875.6" fill="none" stroke="#141414" stroke-width="1.9"/>
<polyline points="722.5,211.5 735.1,177.4 744.6,192.9 753.9,179.7 763.2,188.3 775.7,171.6 794.3,198.3 805.5,178.3 812.4,179.7 821.7,171.6 837.5,193.4 847.3,164.6 854.3,181.8 861.2,167.4 877.5,145.3" fill="none" stroke="#4cb44a" stroke-width="2"/>
<polygon points="727.6,254 870.5,254 886.8,276.6 711.4,276.6" fill="#e3e3e3"/>
<path d="M724.4 258.5H873.7M720.8 263.5H877.4M716.5 269.5H881.7M736.7 254L728 276.6M752.5 254L746 276.6M768.3 254L764 276.6M784.1 254L781.9 276.6M799.9 254L799.9 276.6M815.7 254L817.9 276.6M831.5 254L835.1 276.6M847.3 254L853.1 276.6M863.1 254L871 276.6" stroke="#a3a3a3" stroke-width="1.5" fill="none"/>
<polygon points="727.6,254 870.5,254 886.8,276.6 711.4,276.6" fill="none" stroke="#7b7b7b" stroke-width="1.8"/>
<ellipse cx="900.3" cy="265" rx="18" ry="9.6" transform="rotate(14 900.3 265)" fill="#606163" stroke="#474849" stroke-width="1"/>
<rect x="745" y="453.5" width="130" height="8.6" fill="#b3bccd" stroke="#727985" stroke-width="1.1"/>
<rect x="728.3" y="462" width="161.4" height="108.6" fill="#b3bccd" stroke="#6e7480" stroke-width="1.2"/>
<rect x="732.3" y="466.5" width="153.2" height="96.5" fill="#fff"/>
<rect x="736" y="471.1" width="146" height="16.4" fill="#525865"/>
<rect x="739.2" y="475.4" width="141.2" height="10.2" fill="#868e9c"/>
<path d="M809 487.5V570.6" stroke="#6f7580" stroke-width="1.5"/>
<rect x="702.8" y="757.2" width="21.2" height="6" fill="#a7a8a9" stroke="#8b8c8e" stroke-width="0.8"/>
<rect x="777.2" y="757.2" width="20.7" height="6" fill="#a7a8a9" stroke="#8b8c8e" stroke-width="0.8"/>
<rect x="697.2" y="762.2" width="108.7" height="57.7" fill="#5f6062" stroke="#4a4b4d" stroke-width="1.1"/>
<rect x="706.5" y="775.3" width="90.9" height="35.3" fill="#8b908e" stroke="#48494b" stroke-width="1.3"/>
<path d="M710.8 769.3h7M714.3 765.8v7" stroke="#fff" stroke-width="1.7"/>
<path d="M783.5 769.3h7.2" stroke="#fff" stroke-width="1.7"/>
<rect x="817.2" y="757.2" width="21.2" height="6" fill="#a7a8a9" stroke="#8b8c8e" stroke-width="0.8"/>
<rect x="891.6" y="757.2" width="20.7" height="6" fill="#a7a8a9" stroke="#8b8c8e" stroke-width="0.8"/>
<rect x="811.6" y="762.2" width="108.7" height="57.7" fill="#5f6062" stroke="#4a4b4d" stroke-width="1.1"/>
<rect x="820.9" y="775.3" width="90.9" height="35.3" fill="#8b908e" stroke="#48494b" stroke-width="1.3"/>
<path d="M825.2 769.3h7M828.7 765.8v7" stroke="#fff" stroke-width="1.7"/>
<path d="M897.9 769.3h7.2" stroke="#fff" stroke-width="1.7"/>
<rect x="702.8" y="826.7" width="21.2" height="6" fill="#a7a8a9" stroke="#8b8c8e" stroke-width="0.8"/>
<rect x="777.2" y="826.7" width="20.7" height="6" fill="#a7a8a9" stroke="#8b8c8e" stroke-width="0.8"/>
<rect x="697.2" y="831.7" width="108.7" height="57.7" fill="#5f6062" stroke="#4a4b4d" stroke-width="1.1"/>
<rect x="706.5" y="844.8" width="90.9" height="35.3" fill="#8b908e" stroke="#48494b" stroke-width="1.3"/>
<path d="M710.8 838.8h7M714.3 835.3v7" stroke="#fff" stroke-width="1.7"/>
<path d="M783.5 838.8h7.2" stroke="#fff" stroke-width="1.7"/>
<rect x="817.2" y="826.7" width="21.2" height="6" fill="#a7a8a9" stroke="#8b8c8e" stroke-width="0.8"/>
<rect x="891.6" y="826.7" width="20.7" height="6" fill="#a7a8a9" stroke="#8b8c8e" stroke-width="0.8"/>
<rect x="811.6" y="831.7" width="108.7" height="57.7" fill="#5f6062" stroke="#4a4b4d" stroke-width="1.1"/>
<rect x="820.9" y="844.8" width="90.9" height="35.3" fill="#8b908e" stroke="#48494b" stroke-width="1.3"/>
<path d="M825.2 838.8h7M828.7 835.3v7" stroke="#fff" stroke-width="1.7"/>
<path d="M897.9 838.8h7.2" stroke="#fff" stroke-width="1.7"/>
<rect x="1055.3" y="455.6" width="14" height="99" fill="#e6e6e6" stroke="#8a8a8a" stroke-width="1"/>
<rect x="1063.5" y="456" width="5.5" height="98.5" fill="#b1b1b1"/>
<rect x="1192.5" y="453.5" width="13.5" height="99" fill="#e6e6e6" stroke="#8a8a8a" stroke-width="1"/>
<rect x="1193" y="454" width="4.6" height="98.5" fill="#b1b1b1"/>
<polygon points="1080,559 1180,559 1176.4,570.8 1083.4,570.8" fill="#b3b3b3" stroke="#8f8f8f" stroke-width="0.8"/>
<rect x="1082.4" y="419.5" width="2.2" height="9" fill="#8a8a8a"/>
<path d="M1076 448V431Q1076 427.5 1079.5 427.5H1087.5 Q1091 427.5 1091 431V448Z" fill="#8d8d8d" stroke="#747474" stroke-width="0.8"/>
<rect x="1074.1" y="435.6" width="18.8" height="1.8" rx="0.9" fill="#7c7c7c"/>
<rect x="1074.1" y="441.2" width="18.8" height="1.8" rx="0.9" fill="#7c7c7c"/>
<rect x="1079.5" y="431" width="3" height="15" fill="#adadad" opacity="0.7"/>
<rect x="1129.9" y="419.5" width="2.2" height="9" fill="#8a8a8a"/>
<path d="M1123.5 448V431Q1123.5 427.5 1127 427.5H1135 Q1138.5 427.5 1138.5 431V448Z" fill="#8d8d8d" stroke="#747474" stroke-width="0.8"/>
<rect x="1121.6" y="435.6" width="18.8" height="1.8" rx="0.9" fill="#7c7c7c"/>
<rect x="1121.6" y="441.2" width="18.8" height="1.8" rx="0.9" fill="#7c7c7c"/>
<rect x="1127" y="431" width="3" height="15" fill="#adadad" opacity="0.7"/>
<rect x="1177.7" y="419.5" width="2.2" height="9" fill="#8a8a8a"/>
<path d="M1171.3 448V431Q1171.3 427.5 1174.8 427.5H1182.8 Q1186.3 427.5 1186.3 431V448Z" fill="#8d8d8d" stroke="#747474" stroke-width="0.8"/>
<rect x="1169.4" y="435.6" width="18.8" height="1.8" rx="0.9" fill="#7c7c7c"/>
<rect x="1169.4" y="441.2" width="18.8" height="1.8" rx="0.9" fill="#7c7c7c"/>
<rect x="1174.8" y="431" width="3" height="15" fill="#adadad" opacity="0.7"/>
<rect x="1068.5" y="447.8" width="124" height="112.5" rx="7" fill="#dcdcdc" stroke="#7a7a7a" stroke-width="1.2"/>
<rect x="1076.3" y="454.5" width="4.4" height="100.5" rx="2.2" fill="#9d9d9d"/>
<rect x="1077.1" y="455" width="2.8" height="99.5" rx="1.4" fill="#545454"/>
<rect x="1086.8" y="454.5" width="4.4" height="100.5" rx="2.2" fill="#9d9d9d"/>
<rect x="1087.6" y="455" width="2.8" height="99.5" rx="1.4" fill="#545454"/>
<rect x="1097.1" y="454.5" width="4.4" height="100.5" rx="2.2" fill="#9d9d9d"/>
<rect x="1097.9" y="455" width="2.8" height="99.5" rx="1.4" fill="#545454"/>
<rect x="1107.6" y="454.5" width="4.4" height="100.5" rx="2.2" fill="#9d9d9d"/>
<rect x="1108.4" y="455" width="2.8" height="99.5" rx="1.4" fill="#545454"/>
<rect x="1117.8" y="454.5" width="4.4" height="100.5" rx="2.2" fill="#9d9d9d"/>
<rect x="1118.6" y="455" width="2.8" height="99.5" rx="1.4" fill="#545454"/>
<rect x="1128.3" y="454.5" width="4.4" height="100.5" rx="2.2" fill="#9d9d9d"/>
<rect x="1129.1" y="455" width="2.8" height="99.5" rx="1.4" fill="#545454"/>
<rect x="1138.6" y="454.5" width="4.4" height="100.5" rx="2.2" fill="#9d9d9d"/>
<rect x="1139.4" y="455" width="2.8" height="99.5" rx="1.4" fill="#545454"/>
<rect x="1148.8" y="454.5" width="4.4" height="100.5" rx="2.2" fill="#9d9d9d"/>
<rect x="1149.6" y="455" width="2.8" height="99.5" rx="1.4" fill="#545454"/>
<rect x="1159.1" y="454.5" width="4.4" height="100.5" rx="2.2" fill="#9d9d9d"/>
<rect x="1159.9" y="455" width="2.8" height="99.5" rx="1.4" fill="#545454"/>
<rect x="1169.6" y="454.5" width="4.4" height="100.5" rx="2.2" fill="#9d9d9d"/>
<rect x="1170.4" y="455" width="2.8" height="99.5" rx="1.4" fill="#545454"/>
<rect x="1179.8" y="454.5" width="4.4" height="100.5" rx="2.2" fill="#9d9d9d"/>
<rect x="1180.6" y="455" width="2.8" height="99.5" rx="1.4" fill="#545454"/>
<path d="M1380 311.1L1390.6 355.9M1380 311.1L1403.2 342.1L1412.8 355.9M1476.3 311.1L1465.3 355.9M1476.3 311.1L1452.7 342.1L1443.1 355.9M1337.1 355.9L1519.2 355.9M1337.1 355.9L1385.9 336.2L1403.2 342.1M1519.2 355.9L1470.1 336.2L1452.7 342.1M1403.2 342.1L1452.7 342.1M1385.9 336.2L1390.6 355.9M1385.9 336.2L1403.2 355.9M1403.2 342.1L1390.6 355.9M1373.8 341L1373.8 355.9M1361.6 346L1361.6 355.9M1350 350.6L1350 355.9M1373.8 341L1361.6 355.9M1361.6 346L1350 355.9M1470.1 336.2L1465.3 355.9M1470.1 336.2L1452.7 355.9M1452.7 342.1L1465.3 355.9M1482.4 341L1482.4 355.9M1494.6 346L1494.6 355.9M1506.2 350.6L1506.2 355.9M1482.4 341L1494.6 355.9M1494.6 346L1506.2 355.9M1391.2 355.9L1412.4 432.3L1389.8 570M1464.6 355.9L1444.2 432.3L1466.6 570M1412.4 355.9L1401.5 389.8L1428.2 422L1455.7 389.8L1444 355.9M1391.2 355.9L1408.8 367M1412.4 355.9L1394.3 367M1394.3 367L1405.1 378.5M1408.8 367L1397.5 378.5M1397.5 378.5L1401.5 389.8M1405.1 378.5L1400.6 389.8M1400.6 389.8L1411.7 402.1M1401.5 389.8L1404 402.1M1404 402.1L1420.2 412.4M1411.7 402.1L1406.8 412.4M1404 402.1L1411.7 402.1M1406.8 412.4L1428 421.8M1420.2 412.4L1409.4 421.8M1406.8 412.4L1420.2 412.4M1409.4 421.8L1447 421.8M1465.2 355.9L1447.6 367M1444 355.9L1462.1 367M1455.8 389.8L1444.7 402.1M1454.9 389.8L1452.4 402.1M1462.1 367L1451.3 378.5M1447.6 367L1458.9 378.5M1452.4 402.1L1436.2 412.4M1444.7 402.1L1449.6 412.4M1452.4 402.1L1444.7 402.1M1458.9 378.5L1454.9 389.8M1451.3 378.5L1455.8 389.8M1449.6 412.4L1428.4 421.8M1436.2 412.4L1447 421.8M1449.6 412.4L1436.2 412.4M1409.4 421.8L1444.2 432.5M1447 421.8L1412.4 432.5M1412.4 432.3L1444.2 432.3M1406.4 472.2L1450 472.2M1400.8 506.1L1455.5 506.1M1398 523.6L1458.2 523.6M1412.4 432.3L1428.2 472.2L1444.2 432.3M1427 434L1409.2 454.5L1428.2 472.2M1429.4 434L1447.2 454.5L1428.2 472.2M1422 458L1406.4 472.2M1434.4 458L1450 472.2M1428.2 472.2L1400.8 506.1M1428.2 472.2L1455.5 506.1M1406.4 472.2L1415 486M1404 486L1415 486M1450 472.2L1441.4 486M1452.4 486L1441.4 486M1404 486L1408.5 495M1452.4 486L1447.9 495M1426.5 506.1L1415.6 523.6L1389.8 570M1430 506.1L1441 523.6L1466.6 570M1400.8 506.1L1415.6 523.6M1455.5 506.1L1441 523.6M1426.5 506.1L1398 523.6M1430 506.1L1458.2 523.6M1398 523.6L1409.3 535M1415.6 523.6L1396 535M1396 535L1403.1 546M1409.3 535L1394 546M1394 546L1397.3 556.5M1403.1 546L1392.2 556.5M1458.4 523.6L1447.1 535M1440.8 523.6L1460.4 535M1460.4 535L1453.3 546M1447.1 535L1462.4 546M1462.4 546L1459.1 556.5M1453.3 546L1464.2 556.5" fill="none" stroke="#7b7b7b" stroke-width="1.7" stroke-linejoin="round" stroke-linecap="round"/>
<path d="M1352.2 356.9L1366.2 383.5L1380.3 356.9M1413.5 356.9L1428.3 383.5L1442.3 356.9M1476.3 356.9L1490.4 383.5L1504.4 356.9" fill="none" stroke="#8a8a8a" stroke-width="1.1"/>
<rect x="1517" y="703.9" width="40.2" height="184.4" fill="#c6c6c8" stroke="#8d8d8f" stroke-width="1"/>
<rect x="1555" y="704.5" width="5" height="184" fill="#a9a9ab"/>
<rect x="1541.8" y="723.5" width="6.3" height="18" fill="#e8ecec"/>
<rect x="1542.6" y="724.3" width="4.7" height="7.8" fill="#2f4d6e"/>
<rect x="1542.6" y="732.7" width="4.7" height="8" fill="#3f6a8a"/>
<rect x="1541.8" y="747.8" width="6.3" height="18" fill="#e8ecec"/>
<rect x="1542.6" y="748.6" width="4.7" height="7.8" fill="#2f4d6e"/>
<rect x="1542.6" y="757" width="4.7" height="8" fill="#3f6a8a"/>
<rect x="1541.8" y="771.5" width="6.3" height="18" fill="#e8ecec"/>
<rect x="1542.6" y="772.3" width="4.7" height="7.8" fill="#2f4d6e"/>
<rect x="1542.6" y="780.7" width="4.7" height="8" fill="#3f6a8a"/>
<rect x="1541.8" y="796" width="6.3" height="18" fill="#e8ecec"/>
<rect x="1542.6" y="796.8" width="4.7" height="7.8" fill="#2f4d6e"/>
<rect x="1542.6" y="805.2" width="4.7" height="8" fill="#3f6a8a"/>
<rect x="1473.3" y="719.3" width="62.8" height="169" fill="#f2f2f4" stroke="#9a9a9c" stroke-width="1"/>
<rect x="1473.3" y="719.3" width="5.7" height="169" fill="#b9b9bb"/>
<rect x="1533" y="719.3" width="3.1" height="169" fill="#c2c2c4"/>
<rect x="1482.6" y="725" width="45" height="6.3" fill="#34506f" stroke="#5a7590" stroke-width="0.5"/>
<rect x="1482.6" y="736.8" width="45" height="6.3" fill="#34506f" stroke="#5a7590" stroke-width="0.5"/>
<rect x="1482.6" y="748.5" width="45" height="6.3" fill="#34506f" stroke="#5a7590" stroke-width="0.5"/>
<rect x="1482.6" y="760.2" width="45" height="6.3" fill="#34506f" stroke="#5a7590" stroke-width="0.5"/>
<rect x="1482.6" y="772" width="45" height="6.3" fill="#34506f" stroke="#5a7590" stroke-width="0.5"/>
<rect x="1482.6" y="783.8" width="45" height="6.3" fill="#34506f" stroke="#5a7590" stroke-width="0.5"/>
<rect x="1482.6" y="795.5" width="45" height="6.3" fill="#34506f" stroke="#5a7590" stroke-width="0.5"/>
<rect x="1482.6" y="807.2" width="45" height="6.3" fill="#34506f" stroke="#5a7590" stroke-width="0.5"/>
<rect x="1482.6" y="819" width="45" height="6.3" fill="#34506f" stroke="#5a7590" stroke-width="0.5"/>
<rect x="1482.6" y="830.8" width="45" height="6.3" fill="#34506f" stroke="#5a7590" stroke-width="0.5"/>
<rect x="1482.6" y="842.5" width="45" height="6.3" fill="#34506f" stroke="#5a7590" stroke-width="0.5"/>
<rect x="1482.6" y="854.2" width="45" height="6.3" fill="#34506f" stroke="#5a7590" stroke-width="0.5"/>
<rect x="1482.6" y="866" width="45" height="6.3" fill="#34506f" stroke="#5a7590" stroke-width="0.5"/>
<rect x="1482.6" y="877.8" width="45" height="6.3" fill="#34506f" stroke="#5a7590" stroke-width="0.5"/>
<rect x="1301.1" y="747.4" width="72.1" height="11" fill="#b7b6b2" stroke="#9a9a98" stroke-width="0.8"/>
<rect x="1299.5" y="765" width="94.5" height="124" fill="#e5efec" stroke="#8d918f" stroke-width="1"/>
<rect x="1296.2" y="758.3" width="97.8" height="7.1" fill="#dfe2e0" stroke="#9a9d9b" stroke-width="0.8"/>
<rect x="1299.5" y="765.4" width="94.5" height="4.9" fill="#9ea5a2"/>
<rect x="1389" y="758" width="5" height="131" fill="#9fa6a3"/>
<rect x="1299.5" y="823.5" width="94.5" height="3.3" fill="#9ea5a2"/>
<rect x="1296.2" y="826.8" width="97.8" height="6.8" fill="#dfe2e0" stroke="#9a9d9b" stroke-width="0.8"/>
<rect x="1299.5" y="833.6" width="94.5" height="5.4" fill="#9ea5a2"/>
<rect x="1349" y="784.5" width="19.8" height="19.7" fill="#d6e6f4" stroke="#5e3720" stroke-width="1.7"/><path d="M1358.9 784.5V804.2M1349 794.4H1368.8" stroke="#5e3720" stroke-width="1.3"/>
<rect x="1371.8" y="784.5" width="19.8" height="19.7" fill="#d6e6f4" stroke="#5e3720" stroke-width="1.7"/><path d="M1381.7 784.5V804.2M1371.8 794.4H1391.6" stroke="#5e3720" stroke-width="1.3"/>
<rect x="1309.2" y="847.7" width="19.8" height="19.7" fill="#d6e6f4" stroke="#5e3720" stroke-width="1.7"/><path d="M1319.1 847.7V867.4M1309.2 857.6H1329" stroke="#5e3720" stroke-width="1.3"/>
<rect x="1331.7" y="847.7" width="19.8" height="19.7" fill="#d6e6f4" stroke="#5e3720" stroke-width="1.7"/><path d="M1341.6 847.7V867.4M1331.7 857.6H1351.5" stroke="#5e3720" stroke-width="1.3"/>
<path d="M1309 812h2.5M1305 818l2 -2M1312 815l2 2M1306 818l2 2" stroke="#8a8e8c" stroke-width="1.4" fill="none"/>
<path d="M1384 840h2.5M1380 846l2 -2M1387 843l2 2M1381 846l2 2" stroke="#8a8e8c" stroke-width="1.4" fill="none"/>
<path d="M1309 876h2.5M1305 882l2 -2M1312 879l2 2M1306 882l2 2" stroke="#8a8e8c" stroke-width="1.4" fill="none"/>
<rect x="1393.5" y="757.3" width="85.5" height="131" fill="#c8c8ca" stroke="#8c8c8e" stroke-width="1"/>
<rect x="1387.5" y="746.1" width="94.7" height="4.3" fill="#b8b8ba" stroke="#98989a" stroke-width="0.8"/>
<rect x="1392.4" y="750.4" width="86.6" height="6.9" fill="#e9e9eb" stroke="#a5a5a7" stroke-width="0.8"/>
<rect x="1478" y="750" width="4.2" height="138.3" fill="#a4a4a6"/>
<path d="M1420.9 757.3V888.3" stroke="#8c8c8e" stroke-width="1.2"/>
<rect x="1403.6" y="767.9" width="7.8" height="20.5" fill="#e8f0e8"/>
<rect x="1404.4" y="768.7" width="6.2" height="9" fill="#2f4d6e"/>
<rect x="1404.4" y="778.3" width="6.2" height="9.3" fill="#6fa7bd"/>
<rect x="1403.6" y="796" width="7.8" height="20.5" fill="#e8f0e8"/>
<rect x="1404.4" y="796.8" width="6.2" height="9" fill="#2f4d6e"/>
<rect x="1404.4" y="806.4" width="6.2" height="9.3" fill="#6fa7bd"/>
<rect x="1403.6" y="823.5" width="7.8" height="20.5" fill="#e8f0e8"/>
<rect x="1404.4" y="824.3" width="6.2" height="9" fill="#2f4d6e"/>
<rect x="1404.4" y="833.9" width="6.2" height="9.3" fill="#6fa7bd"/>
<rect x="1403.6" y="850.9" width="7.8" height="20.5" fill="#e8f0e8"/>
<rect x="1404.4" y="851.7" width="6.2" height="9" fill="#6fa7bd"/>
<rect x="1404.4" y="861.3" width="6.2" height="9.3" fill="#6fa7bd"/>
<rect x="1428.3" y="767.9" width="43.3" height="41.6" fill="#e3ead8"/><rect x="1429.2" y="768.8" width="9.7" height="7.2" fill="#2e4b6b"/><rect x="1429.2" y="776.9" width="9.7" height="7.2" fill="#2e4b6b"/><rect x="1429.2" y="785.1" width="9.7" height="7.2" fill="#2e4b6b"/><rect x="1429.2" y="793.2" width="9.7" height="7.2" fill="#2e4b6b"/><rect x="1429.2" y="801.4" width="9.7" height="7.2" fill="#2e4b6b"/><rect x="1439.8" y="768.8" width="9.7" height="7.2" fill="#2e4b6b"/><rect x="1439.8" y="776.9" width="9.7" height="7.2" fill="#2e4b6b"/><rect x="1439.8" y="785.1" width="9.7" height="7.2" fill="#2e4b6b"/><rect x="1439.8" y="793.2" width="9.7" height="7.2" fill="#2e4b6b"/><rect x="1439.8" y="801.4" width="9.7" height="7.2" fill="#2e4b6b"/><rect x="1450.4" y="768.8" width="9.7" height="7.2" fill="#2e4b6b"/><rect x="1450.4" y="776.9" width="9.7" height="7.2" fill="#2e4b6b"/><rect x="1450.4" y="785.1" width="9.7" height="7.2" fill="#2e4b6b"/><rect x="1450.4" y="793.2" width="9.7" height="7.2" fill="#2e4b6b"/><rect x="1450.4" y="801.4" width="9.7" height="7.2" fill="#2e4b6b"/><rect x="1461" y="768.8" width="9.7" height="7.2" fill="#2e4b6b"/><rect x="1461" y="776.9" width="9.7" height="7.2" fill="#2e4b6b"/><rect x="1461" y="785.1" width="9.7" height="7.2" fill="#2e4b6b"/><rect x="1461" y="793.2" width="9.7" height="7.2" fill="#2e4b6b"/><rect x="1461" y="801.4" width="9.7" height="7.2" fill="#2e4b6b"/>
<rect x="1420.9" y="819.7" width="59.2" height="9.5" fill="#c3c3c5" stroke="#909092" stroke-width="1"/>
<path d="M1420.9 810.5H1479M1420.9 830H1479" stroke="#8c8c8e" stroke-width="1"/>
<rect x="1427.3" y="842.5" width="20.7" height="30" fill="#e3ead8"/><rect x="1428.2" y="843.4" width="9" height="6.4" fill="#2e4b6b"/><rect x="1428.2" y="850.7" width="9" height="6.4" fill="#2e4b6b"/><rect x="1428.2" y="857.9" width="9" height="6.4" fill="#2e4b6b"/><rect x="1428.2" y="865.2" width="9" height="6.4" fill="#2e4b6b"/><rect x="1438.1" y="843.4" width="9" height="6.4" fill="#2e4b6b"/><rect x="1438.1" y="850.7" width="9" height="6.4" fill="#2e4b6b"/><rect x="1438.1" y="857.9" width="9" height="6.4" fill="#2e4b6b"/><rect x="1438.1" y="865.2" width="9" height="6.4" fill="#2e4b6b"/>
<rect x="1452.2" y="842.5" width="20.5" height="30" fill="#e3ead8"/><rect x="1453.1" y="843.4" width="8.9" height="6.4" fill="#2e4b6b"/><rect x="1453.1" y="850.7" width="8.9" height="6.4" fill="#2e4b6b"/><rect x="1453.1" y="857.9" width="8.9" height="6.4" fill="#2e4b6b"/><rect x="1453.1" y="865.2" width="8.9" height="6.4" fill="#2e4b6b"/><rect x="1462.9" y="843.4" width="8.9" height="6.4" fill="#2e4b6b"/><rect x="1462.9" y="850.7" width="8.9" height="6.4" fill="#2e4b6b"/><rect x="1462.9" y="857.9" width="8.9" height="6.4" fill="#2e4b6b"/><rect x="1462.9" y="865.2" width="8.9" height="6.4" fill="#2e4b6b"/>
<g transform="translate(141.7 303.7)"><path d="M0 0 C-4 10 -6 26 -1 34 C4 42 14 41 24 44 C34 47 34 58 32 68 C30 78 30 88 40 93 C50 98 60 96 66 103 C71 110 70 125 66 137" fill="none" stroke="url(#rayG)" stroke-width="4.6" stroke-linecap="round"/><path d="M48.8 147.4 L78.3 128.4 L79.2 162 Z" fill="url(#ahG)"/></g>
<g transform="translate(189.8 273.2)"><path d="M0 0 C-4 10 -6 26 -1 34 C4 42 14 41 24 44 C34 47 34 58 32 68 C30 78 30 88 40 93 C50 98 60 96 66 103 C71 110 70 125 66 137" fill="none" stroke="url(#rayG)" stroke-width="4.6" stroke-linecap="round"/><path d="M48.8 147.4 L78.3 128.4 L79.2 162 Z" fill="url(#ahG)"/></g>
<g transform="translate(237.9 241.6)"><path d="M0 0 C-4 10 -6 26 -1 34 C4 42 14 41 24 44 C34 47 34 58 32 68 C30 78 30 88 40 93 C50 98 60 96 66 103 C71 110 70 125 66 137" fill="none" stroke="url(#rayG)" stroke-width="4.6" stroke-linecap="round"/><path d="M48.8 147.4 L78.3 128.4 L79.2 162 Z" fill="url(#ahG)"/></g>
<g font-size="24" class="lbl">
<text x="293" y="306.5" textLength="114" lengthAdjust="spacingAndGlyphs">SUNLIGHT</text>
<text x="713" y="308.5" textLength="200" lengthAdjust="spacingAndGlyphs">MONITOR SYSTEM</text>
<text x="759" y="601.2" textLength="108" lengthAdjust="spacingAndGlyphs">INVERTER</text>
<text x="1003.5" y="603" textLength="254" lengthAdjust="spacingAndGlyphs">POWER TRANSFORMER</text>
<text x="1363" y="598.7" textLength="157" lengthAdjust="spacingAndGlyphs">TRANMISSION</text>
<text x="1363.5" y="628.4" textLength="158" lengthAdjust="spacingAndGlyphs">DISTRIBUTION</text>
<text x="249" y="710.8" textLength="108" lengthAdjust="spacingAndGlyphs">PV ARRAY</text>
<text x="728" y="922.7" textLength="167" lengthAdjust="spacingAndGlyphs">BATTERY BANK</text>
<text x="1374" y="922.5" textLength="127" lengthAdjust="spacingAndGlyphs">CONSUMER</text>
</g>
<g fill="#3b86c9">
<path d="M591 517.2H658V505.4L688.4 523.2L658 541V529.8H591Z"/>
<path d="M919.6 517.2H987V505.4L1017 523.2L987 541V529.8H919.6Z"/>
<path d="M1249.4 517.2H1316.4V505.4L1347 523.2L1316.4 541V529.8H1249.4Z"/>
<path d="M797.4 416.8V349.9H786.2L804 319.1L821.7 349.9H810.4V416.8Z"/>
<path d="M766.6 638.9V705.8H755.2L773.3 736.5L791 705.8H779.9V638.9Z"/>
<path d="M821.1 736.8V669.9H809.7L827.5 638.9L845.4 669.9H834.4V736.8Z"/>
<path d="M1417.6 638.9V706H1405.8L1424 736.5L1441.3 706H1430.3V638.9Z"/>
</g>
</svg>
</body></html>
